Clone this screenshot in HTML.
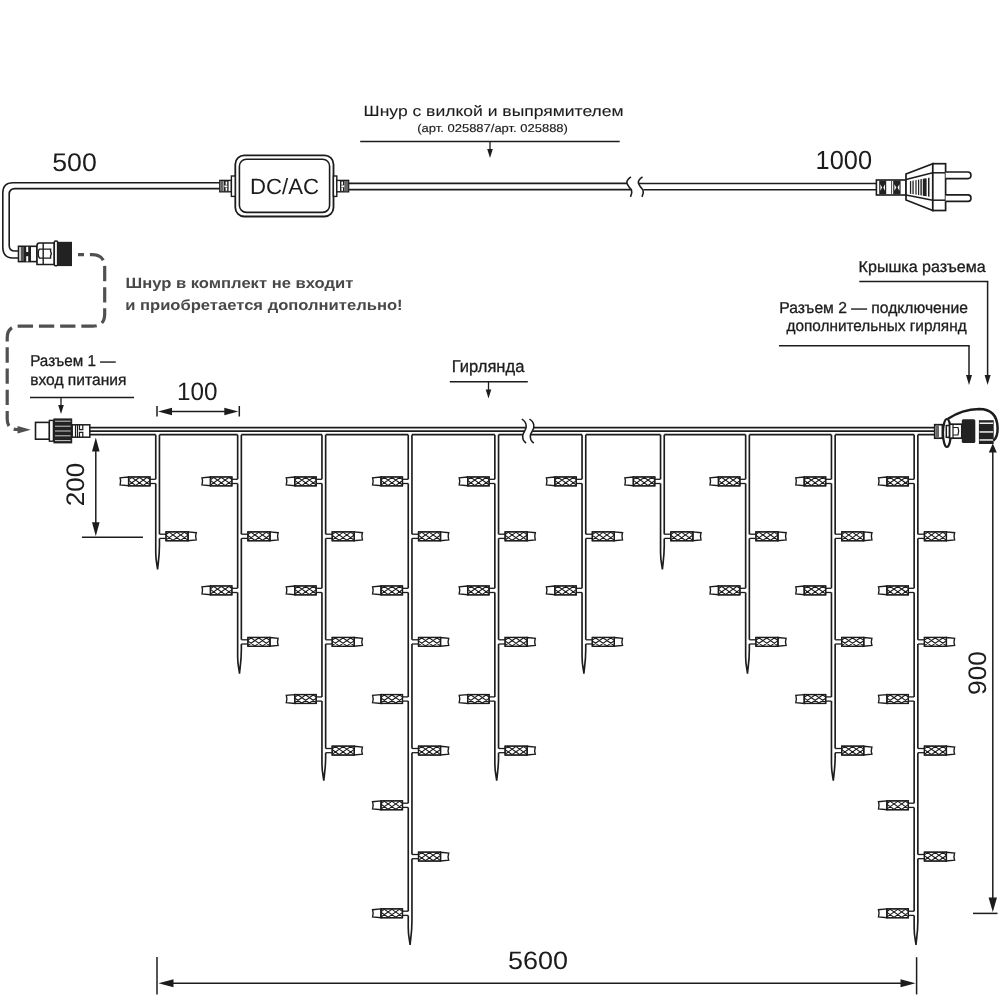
<!DOCTYPE html><html><head><meta charset="utf-8"><style>html,body{margin:0;padding:0;background:#fff;width:1000px;height:1000px;overflow:hidden}svg{display:block;filter:grayscale(1)}text{font-family:"Liberation Sans",sans-serif;text-rendering:geometricPrecision}</style></head><body>
<svg width="1000" height="1000" viewBox="0 0 1000 1000">
<rect width="1000" height="1000" fill="#fff"/>
<path d="M219.8 182.8 L13 182.8 Q2.8 182.8 2.8 193 L2.8 247 Q2.8 258 13 258 L18.5 258" fill="none" stroke="#1c1c1c" stroke-width="1.6" />
<path d="M219.8 188.6 L15 188.6 Q9.2 188.6 9.2 194.5 L9.2 245.5 Q9.2 251 15 251 L18.5 251" fill="none" stroke="#1c1c1c" stroke-width="1.6" />
<rect x="18.5" y="246.3" width="18.5" height="15.3" rx="0" fill="#fff" stroke="#1c1c1c" stroke-width="1.6"/>
<rect x="20.7" y="247" width="3.3" height="14" fill="#555"/>
<rect x="24" y="247" width="7" height="14" fill="#222"/>
<rect x="26.2" y="246.8" width="2" height="5.2" fill="#fff"/>
<rect x="26.2" y="256.2" width="2" height="5.2" fill="#fff"/>
<path d="M37 264.5 L37 245.5 Q37 243 39.5 243 L54.3 243 L54.3 264.5 Z" fill="#fff" stroke="#1c1c1c" stroke-width="1.6" />
<line x1="43.2" y1="243" x2="43.2" y2="264.5" stroke="#1c1c1c" stroke-width="1.4" />
<path d="M39.5 249.1 L50.6 249.1 L50.6 251.6 Q52 253.6 50.6 255.6 L50.6 258.1 L39.5 258.1 Q38 256.5 38.3 253.6 Q38 250.7 39.5 249.1 Z" fill="none" stroke="#1c1c1c" stroke-width="1.4" />
<rect x="54.3" y="241.1" width="3.3" height="24.7" rx="1.2" fill="#fff" stroke="#1c1c1c" stroke-width="1.5"/>
<rect x="57.6" y="241.8" width="14.4" height="24.3" fill="#222"/>
<path d="M78 254.7 L92 254.7 Q104.7 254.7 104.7 267 L104.7 314 Q104.7 326.2 92.5 326.2 L19 326.2 Q7.2 326.2 7.2 338 L7.2 419 Q7.2 429.5 17 429.5 L22 429.5" fill="none" stroke="#505050" stroke-width="3.2" stroke-dasharray="15.3 5.9" stroke-dashoffset="9.3"/>
<path d="M17.5 426.1 L17.5 433.5 L30.8 429.8 Z" fill="#505050"/>
<rect x="235.3" y="155.3" width="98.2" height="61.2" rx="9" fill="#fff" stroke="#1c1c1c" stroke-width="1.8"/>
<rect x="239.4" y="159.2" width="90.2" height="53.2" rx="7" fill="#fff" stroke="#1c1c1c" stroke-width="1.6"/>
<text x="250" y="193.8" font-size="22" font-weight="normal" fill="#1c1c1c" text-anchor="start" textLength="69" lengthAdjust="spacingAndGlyphs" >DC/AC</text>
<rect x="219.8" y="180.4" width="11.6" height="11.4" rx="0" fill="#fff" stroke="#1c1c1c" stroke-width="1.4"/>
<rect x="220.4" y="181" width="3.2" height="10.2" fill="#666"/>
<rect x="224" y="181" width="4.6" height="10.2" fill="#222"/>
<rect x="224.4" y="185.4" width="3" height="1.8" fill="#fff"/>
<rect x="225.6" y="181.6" width="1.6" height="3.2" fill="#fff"/>
<rect x="225.6" y="187.6" width="1.6" height="3.2" fill="#fff"/>
<rect x="231.4" y="176" width="3.8" height="20.4" rx="0" fill="#fff" stroke="#1c1c1c" stroke-width="1.4"/>
<rect x="333.4" y="176" width="3.4" height="20.4" rx="0" fill="#fff" stroke="#1c1c1c" stroke-width="1.4"/>
<rect x="336.8" y="180.4" width="11.8" height="11.4" rx="0" fill="#fff" stroke="#1c1c1c" stroke-width="1.4"/>
<rect x="345" y="181" width="3.2" height="10.2" fill="#666"/>
<rect x="340" y="181" width="4.6" height="10.2" fill="#222"/>
<rect x="341.2" y="185.4" width="3" height="1.8" fill="#fff"/>
<rect x="341.4" y="181.6" width="1.6" height="3.2" fill="#fff"/>
<rect x="341.4" y="187.6" width="1.6" height="3.2" fill="#fff"/>
<line x1="348.6" y1="183.4" x2="627.5" y2="183.4" stroke="#1c1c1c" stroke-width="1.6" />
<line x1="348.6" y1="189.6" x2="631.5" y2="189.6" stroke="#1c1c1c" stroke-width="1.6" />
<line x1="639" y1="183.5" x2="876.5" y2="183.5" stroke="#1c1c1c" stroke-width="1.6" />
<line x1="643.5" y1="189.7" x2="876.5" y2="189.7" stroke="#1c1c1c" stroke-width="1.6" />
<path d="M631 176.8 Q626 180 627 183.5 Q628 186 631.5 190 Q632.5 193 630.5 196.8" fill="none" stroke="#1c1c1c" stroke-width="1.6" />
<path d="M642.5 176.8 Q637.5 180 638.5 183.5 Q639.5 186 643 190 Q644 193 642 196.8" fill="none" stroke="#1c1c1c" stroke-width="1.6" />
<rect x="876.4" y="180" width="29.6" height="15" rx="0" fill="#fff" stroke="#1c1c1c" stroke-width="1.6"/>
<rect x="879.2" y="180.6" width="7.00" height="13.8" fill="#222"/>
<path d="M880.40 184.2 L882.10 187.5 L880.40 190.8 Z M885.00 184.2 L883.30 187.5 L885.00 190.8 Z" fill="#fff"/>
<rect x="893.2" y="180.6" width="7.40" height="13.8" fill="#222"/>
<path d="M894.40 184.2 L896.30 187.5 L894.40 190.8 Z M899.40 184.2 L897.50 187.5 L899.40 190.8 Z" fill="#fff"/>
<line x1="891.6" y1="180.6" x2="891.6" y2="194.4" stroke="#444" stroke-width="1" />
<path d="M906 174 L932.8 163.7 L932.8 210.5 L906 200 Z" fill="#fff" stroke="#1c1c1c" stroke-width="1.7" />
<path d="M906 179.5 L932.8 172.8 M906 195 L932.8 200.2" fill="none" stroke="#1c1c1c" stroke-width="1.5" />
<rect x="932.8" y="163.7" width="12.8" height="46.8" rx="0" fill="#fff" stroke="#1c1c1c" stroke-width="1.7"/>
<line x1="932.8" y1="172.8" x2="945.6" y2="172.8" stroke="#1c1c1c" stroke-width="1.5" />
<line x1="932.8" y1="200.2" x2="945.6" y2="200.2" stroke="#1c1c1c" stroke-width="1.5" />
<path d="M909.90 181.30 L911.20 181.05 L911.20 193.91 L909.90 193.70 Z" fill="#222"/>
<path d="M912.40 180.83 L913.70 180.58 L913.70 194.30 L912.40 194.10 Z" fill="#222"/>
<path d="M915.40 180.26 L916.60 180.04 L916.60 194.76 L915.40 194.57 Z" fill="#222"/>
<path d="M918.00 179.77 L919.20 179.54 L919.20 195.17 L918.00 194.98 Z" fill="#222"/>
<path d="M920.40 179.32 L921.80 179.05 L921.80 195.58 L920.40 195.36 Z" fill="#222"/>
<path d="M922.80 178.86 L926.60 178.15 L926.60 196.34 L922.80 195.74 Z" fill="#222"/>
<path d="M928.00 177.88 L929.50 177.60 L929.50 196.80 L928.00 196.56 Z" fill="#222"/>
<path d="M945.6 172 L968 172 Q971 172 971 175.3 Q971 178.6 968 178.6 L945.6 178.6" fill="#fff" stroke="#1c1c1c" stroke-width="1.6" />
<path d="M945.6 194.9 L968 194.9 Q971 194.9 971 198.2 Q971 201.4 968 201.4 L945.6 201.4" fill="#fff" stroke="#1c1c1c" stroke-width="1.6" />
<text x="363.6" y="115.7" font-size="14.8" font-weight="normal" fill="#1c1c1c" text-anchor="start" textLength="260" lengthAdjust="spacingAndGlyphs" stroke="#1c1c1c" stroke-width="0.1" >Шнур с вилкой и выпрямителем</text>
<text x="417.3" y="131.7" font-size="11.4" font-weight="normal" fill="#1c1c1c" text-anchor="start" textLength="150.6" lengthAdjust="spacingAndGlyphs" stroke="#1c1c1c" stroke-width="0.15" >(арт. 025887/арт. 025888)</text>
<line x1="360.2" y1="141.5" x2="619.7" y2="141.5" stroke="#1c1c1c" stroke-width="1.5" />
<line x1="490" y1="141.5" x2="490" y2="150" stroke="#1c1c1c" stroke-width="1.3" />
<path d="M487.2 149 L492.8 149 L490 158 Z" fill="#1c1c1c"/>
<text x="52.2" y="171.3" font-size="25.6" font-weight="normal" fill="#1c1c1c" text-anchor="start" textLength="44.6" lengthAdjust="spacingAndGlyphs" >500</text>
<text x="815.6" y="169.4" font-size="26.2" font-weight="normal" fill="#1c1c1c" text-anchor="start" textLength="56.4" lengthAdjust="spacingAndGlyphs" >1000</text>
<text x="125.5" y="287.7" font-size="14.8" font-weight="bold" fill="#484848" text-anchor="start" textLength="227.8" lengthAdjust="spacingAndGlyphs" >Шнур в комплект не входит</text>
<text x="125.2" y="310.1" font-size="14.8" font-weight="bold" fill="#484848" text-anchor="start" textLength="277.4" lengthAdjust="spacingAndGlyphs" >и приобретается дополнительно!</text>
<text x="30.2" y="365.8" font-size="15.8" font-weight="normal" fill="#1c1c1c" text-anchor="start" textLength="85.4" lengthAdjust="spacingAndGlyphs" stroke="#1c1c1c" stroke-width="0.3" >Разъем 1 —</text>
<text x="30.2" y="384.6" font-size="15.8" font-weight="normal" fill="#1c1c1c" text-anchor="start" textLength="96.2" lengthAdjust="spacingAndGlyphs" stroke="#1c1c1c" stroke-width="0.3" >вход питания</text>
<line x1="30" y1="397.6" x2="134" y2="397.6" stroke="#1c1c1c" stroke-width="1.5" />
<line x1="61" y1="397.6" x2="61" y2="405" stroke="#1c1c1c" stroke-width="1.3" />
<path d="M58.2 405 L63.8 405 L61 414 Z" fill="#1c1c1c"/>
<text x="177" y="400.2" font-size="25.2" font-weight="normal" fill="#1c1c1c" text-anchor="start" textLength="40.5" lengthAdjust="spacingAndGlyphs" >100</text>
<line x1="157" y1="406" x2="157" y2="416.5" stroke="#1c1c1c" stroke-width="1.5" />
<line x1="239.3" y1="406" x2="239.3" y2="416.5" stroke="#1c1c1c" stroke-width="1.5" />
<line x1="165" y1="411.5" x2="232" y2="411.5" stroke="#1c1c1c" stroke-width="1.5" />
<path d="M172 407.7 L172 415.3 L158 411.5 Z" fill="#1c1c1c"/>
<path d="M224.3 407.7 L224.3 415.3 L238.3 411.5 Z" fill="#1c1c1c"/>
<text x="451.8" y="372.2" font-size="17" font-weight="normal" fill="#1c1c1c" text-anchor="start" textLength="72.6" lengthAdjust="spacingAndGlyphs" stroke="#1c1c1c" stroke-width="0.3" >Гирлянда</text>
<line x1="449.8" y1="381.8" x2="527.8" y2="381.8" stroke="#1c1c1c" stroke-width="1.5" />
<line x1="488.5" y1="381.8" x2="488.5" y2="390" stroke="#1c1c1c" stroke-width="1.3" />
<path d="M485.7 389.6 L491.3 389.6 L488.5 398.6 Z" fill="#1c1c1c"/>
<text x="858.6" y="272.2" font-size="15.8" font-weight="normal" fill="#1c1c1c" text-anchor="start" textLength="127.2" lengthAdjust="spacingAndGlyphs" stroke="#1c1c1c" stroke-width="0.3" >Крышка разъема</text>
<line x1="859.3" y1="281.5" x2="988.3" y2="281.5" stroke="#1c1c1c" stroke-width="1.5" />
<line x1="987.6" y1="281.5" x2="987.6" y2="376" stroke="#1c1c1c" stroke-width="1.5" />
<path d="M984.6 375 L990.6 375 L987.6 385 Z" fill="#1c1c1c"/>
<text x="779.3" y="312.5" font-size="15.8" font-weight="normal" fill="#1c1c1c" text-anchor="start" textLength="188.6" lengthAdjust="spacingAndGlyphs" stroke="#1c1c1c" stroke-width="0.3" >Разъем 2 — подключение</text>
<text x="786.5" y="331" font-size="15.8" font-weight="normal" fill="#1c1c1c" text-anchor="start" textLength="180.1" lengthAdjust="spacingAndGlyphs" stroke="#1c1c1c" stroke-width="0.3" >дополнительных гирлянд</text>
<line x1="779" y1="345.8" x2="969.7" y2="345.8" stroke="#1c1c1c" stroke-width="1.5" />
<line x1="969" y1="345.8" x2="969" y2="376" stroke="#1c1c1c" stroke-width="1.5" />
<path d="M966 375 L972 375 L969 385 Z" fill="#1c1c1c"/>
<rect x="35.5" y="422.4" width="13.9" height="16.8" rx="0" fill="#fff" stroke="#1c1c1c" stroke-width="1.6"/>
<rect x="49.4" y="420.4" width="4" height="20.8" rx="0" fill="#fff" stroke="#1c1c1c" stroke-width="1.4"/>
<rect x="53.4" y="418.4" width="18.8" height="25" fill="#222"/>
<rect x="55" y="420.7" width="15.6" height="1.0" fill="#ccc"/>
<rect x="55" y="425.7" width="15.6" height="1.0" fill="#ccc"/>
<rect x="55" y="430.5" width="15.6" height="1.0" fill="#ccc"/>
<rect x="55" y="435.3" width="15.6" height="1.0" fill="#ccc"/>
<rect x="55" y="440.1" width="15.6" height="1.0" fill="#ccc"/>
<rect x="72.2" y="424.8" width="17.6" height="12.4" rx="0" fill="#fff" stroke="#1c1c1c" stroke-width="1.5"/>
<path d="M75.5 425 L75.5 437 M77.5 425 L77.5 437 M79.5 425 L79.5 429.6 L82.8 429.6 L82.8 425 M79.5 437 L79.5 432.4 L82.8 432.4 L82.8 437" fill="none" stroke="#1c1c1c" stroke-width="1.2" />
<line x1="89.8" y1="427.7" x2="525.9" y2="427.7" stroke="#1c1c1c" stroke-width="1.75" />
<line x1="89.8" y1="431" x2="524.6" y2="431" stroke="#1c1c1c" stroke-width="1.75" />
<path d="M89.8 434.7 L155.75 434.7 M159.45 434.7 L237.65 434.7 M241.35 434.7 L321.95 434.7 M325.65 434.7 L408.25 434.7 M411.95 434.7 L494.85 434.7 M498.55 434.7 L522.8 434.7 M530.6 434.7 L582.05 434.7 M585.75 434.7 L660.55 434.7 M664.25 434.7 L745.65 434.7 M749.35 434.7 L831.45 434.7 M835.15 434.7 L914.15 434.7 M917.85 434.7 L934.7 434.7 " fill="none" stroke="#1c1c1c" stroke-width="1.75" />
<line x1="533.8" y1="427.7" x2="934.7" y2="427.7" stroke="#1c1c1c" stroke-width="1.75" />
<line x1="532.6" y1="431" x2="934.7" y2="431" stroke="#1c1c1c" stroke-width="1.75" />
<path d="M521.80 419.1 C524.50 420.6 526.50 423.5 526.20 427 C525.90 430 523.50 432 522.80 435 C522.30 438 523.80 441.5 526.10 443" fill="none" stroke="#1c1c1c" stroke-width="1.6" />
<path d="M529.45 419.1 C532.15 420.6 534.15 423.5 533.85 427 C533.55 430 531.15 432 530.45 435 C529.95 438 531.45 441.5 533.75 443" fill="none" stroke="#1c1c1c" stroke-width="1.6" />
<path d="M155.75 434.7 L155.75 479.3 M159.45 434.7 L159.45 534.2 M155.75 483.5 L155.75 552.5 C155.75 561.5 157.3 565.5 157.6 569.5 M159.45 538.4 L159.45 545.5 C159.45 557.5 157.9 564.5 157.6 569.5 " fill="none" stroke="#1c1c1c" stroke-width="1.65" />
<line x1="150" y1="479.3" x2="155.75" y2="479.3" stroke="#1c1c1c" stroke-width="1.3" />
<line x1="150" y1="483.5" x2="155.75" y2="483.5" stroke="#1c1c1c" stroke-width="1.3" />
<path d="M128.6 477 L120.1 477.8 Q121.3 481.4 120.1 485 L128.6 485.8 Z" fill="#fff" stroke="#1c1c1c" stroke-width="1.4" />
<rect x="128.6" y="476.95" width="21.4" height="8.9" rx="0" fill="#fff" stroke="#1c1c1c" stroke-width="1.2"/>
<clipPath id="c115"><rect x="128.6" y="476.95" width="21.4" height="8.9"/></clipPath>
<path clip-path="url(#c115)" d="M116.06 476.95 L128.6 485.85 M119.86 485.85 L132.4 476.95 M123.66 476.95 L136.2 485.85 M127.46 485.85 L140 476.95 M131.26 476.95 L143.8 485.85 M135.06 485.85 L147.6 476.95 M138.86 476.95 L151.4 485.85 M142.66 485.85 L155.2 476.95 M146.46 476.95 L159 485.85 M150.26 485.85 L162.8 476.95 M154.06 476.95 L166.6 485.85 M157.86 485.85 L170.4 476.95 M161.66 476.95 L174.2 485.85 M165.46 485.85 L178 476.95" stroke="#1c1c1c" stroke-width="1.1" fill="none"/>
<rect x="128.6" y="476.95" width="21.4" height="8.9" rx="0" fill="none" stroke="#1c1c1c" stroke-width="1.25"/>
<line x1="159.45" y1="534.2" x2="166" y2="534.2" stroke="#1c1c1c" stroke-width="1.3" />
<line x1="159.45" y1="538.4" x2="166" y2="538.4" stroke="#1c1c1c" stroke-width="1.3" />
<path d="M188 531.9 L196.2 532.7 Q195 536.3 196.2 539.9 L188 540.7 Z" fill="#fff" stroke="#1c1c1c" stroke-width="1.4" />
<rect x="166" y="531.85" width="22" height="8.9" rx="0" fill="#fff" stroke="#1c1c1c" stroke-width="1.2"/>
<clipPath id="c122"><rect x="166" y="531.85" width="22" height="8.9"/></clipPath>
<path clip-path="url(#c122)" d="M153.46 531.85 L166 540.75 M157.26 540.75 L169.8 531.85 M161.06 531.85 L173.6 540.75 M164.86 540.75 L177.4 531.85 M168.66 531.85 L181.2 540.75 M172.46 540.75 L185 531.85 M176.26 531.85 L188.8 540.75 M180.06 540.75 L192.6 531.85 M183.86 531.85 L196.4 540.75 M187.66 540.75 L200.2 531.85 M191.46 531.85 L204 540.75 M195.26 540.75 L207.8 531.85 M199.06 531.85 L211.6 540.75 M202.86 540.75 L215.4 531.85" stroke="#1c1c1c" stroke-width="1.1" fill="none"/>
<rect x="166" y="531.85" width="22" height="8.9" rx="0" fill="none" stroke="#1c1c1c" stroke-width="1.25"/>
<path d="M237.65 434.7 L237.65 479.3 M237.65 483.5 L237.65 588.3 M241.35 434.7 L241.35 534.2 M241.35 538.4 L241.35 639.8 M237.65 592.5 L237.65 656.7 C237.65 665.7 239.2 669.7 239.5 673.7 M241.35 644 L241.35 649.7 C241.35 661.7 239.8 668.7 239.5 673.7 " fill="none" stroke="#1c1c1c" stroke-width="1.65" />
<line x1="231.9" y1="479.3" x2="237.65" y2="479.3" stroke="#1c1c1c" stroke-width="1.3" />
<line x1="231.9" y1="483.5" x2="237.65" y2="483.5" stroke="#1c1c1c" stroke-width="1.3" />
<path d="M210.5 477 L202 477.8 Q203.2 481.4 202 485 L210.5 485.8 Z" fill="#fff" stroke="#1c1c1c" stroke-width="1.4" />
<rect x="210.5" y="476.95" width="21.4" height="8.9" rx="0" fill="#fff" stroke="#1c1c1c" stroke-width="1.2"/>
<clipPath id="c130"><rect x="210.5" y="476.95" width="21.4" height="8.9"/></clipPath>
<path clip-path="url(#c130)" d="M197.96 476.95 L210.5 485.85 M201.76 485.85 L214.3 476.95 M205.56 476.95 L218.1 485.85 M209.36 485.85 L221.9 476.95 M213.16 476.95 L225.7 485.85 M216.96 485.85 L229.5 476.95 M220.76 476.95 L233.3 485.85 M224.56 485.85 L237.1 476.95 M228.36 476.95 L240.9 485.85 M232.16 485.85 L244.7 476.95 M235.96 476.95 L248.5 485.85 M239.76 485.85 L252.3 476.95 M243.56 476.95 L256.1 485.85 M247.36 485.85 L259.9 476.95" stroke="#1c1c1c" stroke-width="1.1" fill="none"/>
<rect x="210.5" y="476.95" width="21.4" height="8.9" rx="0" fill="none" stroke="#1c1c1c" stroke-width="1.25"/>
<line x1="241.35" y1="534.2" x2="247.9" y2="534.2" stroke="#1c1c1c" stroke-width="1.3" />
<line x1="241.35" y1="538.4" x2="247.9" y2="538.4" stroke="#1c1c1c" stroke-width="1.3" />
<path d="M269.9 531.9 L278.1 532.7 Q276.9 536.3 278.1 539.9 L269.9 540.7 Z" fill="#fff" stroke="#1c1c1c" stroke-width="1.4" />
<rect x="247.9" y="531.85" width="22" height="8.9" rx="0" fill="#fff" stroke="#1c1c1c" stroke-width="1.2"/>
<clipPath id="c137"><rect x="247.9" y="531.85" width="22" height="8.9"/></clipPath>
<path clip-path="url(#c137)" d="M235.36 531.85 L247.9 540.75 M239.16 540.75 L251.7 531.85 M242.96 531.85 L255.5 540.75 M246.76 540.75 L259.3 531.85 M250.56 531.85 L263.1 540.75 M254.36 540.75 L266.9 531.85 M258.16 531.85 L270.7 540.75 M261.96 540.75 L274.5 531.85 M265.76 531.85 L278.3 540.75 M269.56 540.75 L282.1 531.85 M273.36 531.85 L285.9 540.75 M277.16 540.75 L289.7 531.85 M280.96 531.85 L293.5 540.75 M284.76 540.75 L297.3 531.85" stroke="#1c1c1c" stroke-width="1.1" fill="none"/>
<rect x="247.9" y="531.85" width="22" height="8.9" rx="0" fill="none" stroke="#1c1c1c" stroke-width="1.25"/>
<line x1="231.9" y1="588.3" x2="237.65" y2="588.3" stroke="#1c1c1c" stroke-width="1.3" />
<line x1="231.9" y1="592.5" x2="237.65" y2="592.5" stroke="#1c1c1c" stroke-width="1.3" />
<path d="M210.5 586 L202 586.8 Q203.2 590.4 202 594 L210.5 594.8 Z" fill="#fff" stroke="#1c1c1c" stroke-width="1.4" />
<rect x="210.5" y="585.95" width="21.4" height="8.9" rx="0" fill="#fff" stroke="#1c1c1c" stroke-width="1.2"/>
<clipPath id="c144"><rect x="210.5" y="585.95" width="21.4" height="8.9"/></clipPath>
<path clip-path="url(#c144)" d="M197.96 585.95 L210.5 594.85 M201.76 594.85 L214.3 585.95 M205.56 585.95 L218.1 594.85 M209.36 594.85 L221.9 585.95 M213.16 585.95 L225.7 594.85 M216.96 594.85 L229.5 585.95 M220.76 585.95 L233.3 594.85 M224.56 594.85 L237.1 585.95 M228.36 585.95 L240.9 594.85 M232.16 594.85 L244.7 585.95 M235.96 585.95 L248.5 594.85 M239.76 594.85 L252.3 585.95 M243.56 585.95 L256.1 594.85 M247.36 594.85 L259.9 585.95" stroke="#1c1c1c" stroke-width="1.1" fill="none"/>
<rect x="210.5" y="585.95" width="21.4" height="8.9" rx="0" fill="none" stroke="#1c1c1c" stroke-width="1.25"/>
<line x1="241.35" y1="639.8" x2="247.9" y2="639.8" stroke="#1c1c1c" stroke-width="1.3" />
<line x1="241.35" y1="644" x2="247.9" y2="644" stroke="#1c1c1c" stroke-width="1.3" />
<path d="M269.9 637.5 L278.1 638.3 Q276.9 641.9 278.1 645.5 L269.9 646.3 Z" fill="#fff" stroke="#1c1c1c" stroke-width="1.4" />
<rect x="247.9" y="637.45" width="22" height="8.9" rx="0" fill="#fff" stroke="#1c1c1c" stroke-width="1.2"/>
<clipPath id="c151"><rect x="247.9" y="637.45" width="22" height="8.9"/></clipPath>
<path clip-path="url(#c151)" d="M235.36 637.45 L247.9 646.35 M239.16 646.35 L251.7 637.45 M242.96 637.45 L255.5 646.35 M246.76 646.35 L259.3 637.45 M250.56 637.45 L263.1 646.35 M254.36 646.35 L266.9 637.45 M258.16 637.45 L270.7 646.35 M261.96 646.35 L274.5 637.45 M265.76 637.45 L278.3 646.35 M269.56 646.35 L282.1 637.45 M273.36 637.45 L285.9 646.35 M277.16 646.35 L289.7 637.45 M280.96 637.45 L293.5 646.35 M284.76 646.35 L297.3 637.45" stroke="#1c1c1c" stroke-width="1.1" fill="none"/>
<rect x="247.9" y="637.45" width="22" height="8.9" rx="0" fill="none" stroke="#1c1c1c" stroke-width="1.25"/>
<path d="M321.95 434.7 L321.95 479.3 M321.95 483.5 L321.95 588.3 M321.95 592.5 L321.95 696.9 M325.65 434.7 L325.65 534.2 M325.65 538.4 L325.65 639.8 M325.65 644 L325.65 748.5 M321.95 701.1 L321.95 763.8 C321.95 772.8 323.5 776.8 323.8 780.8 M325.65 752.7 L325.65 756.8 C325.65 768.8 324.1 775.8 323.8 780.8 " fill="none" stroke="#1c1c1c" stroke-width="1.65" />
<line x1="316.2" y1="479.3" x2="321.95" y2="479.3" stroke="#1c1c1c" stroke-width="1.3" />
<line x1="316.2" y1="483.5" x2="321.95" y2="483.5" stroke="#1c1c1c" stroke-width="1.3" />
<path d="M294.8 477 L286.3 477.8 Q287.5 481.4 286.3 485 L294.8 485.8 Z" fill="#fff" stroke="#1c1c1c" stroke-width="1.4" />
<rect x="294.8" y="476.95" width="21.4" height="8.9" rx="0" fill="#fff" stroke="#1c1c1c" stroke-width="1.2"/>
<clipPath id="c159"><rect x="294.8" y="476.95" width="21.4" height="8.9"/></clipPath>
<path clip-path="url(#c159)" d="M282.26 476.95 L294.8 485.85 M286.06 485.85 L298.6 476.95 M289.86 476.95 L302.4 485.85 M293.66 485.85 L306.2 476.95 M297.46 476.95 L310 485.85 M301.26 485.85 L313.8 476.95 M305.06 476.95 L317.6 485.85 M308.86 485.85 L321.4 476.95 M312.66 476.95 L325.2 485.85 M316.46 485.85 L329 476.95 M320.26 476.95 L332.8 485.85 M324.06 485.85 L336.6 476.95 M327.86 476.95 L340.4 485.85 M331.66 485.85 L344.2 476.95" stroke="#1c1c1c" stroke-width="1.1" fill="none"/>
<rect x="294.8" y="476.95" width="21.4" height="8.9" rx="0" fill="none" stroke="#1c1c1c" stroke-width="1.25"/>
<line x1="325.65" y1="534.2" x2="332.2" y2="534.2" stroke="#1c1c1c" stroke-width="1.3" />
<line x1="325.65" y1="538.4" x2="332.2" y2="538.4" stroke="#1c1c1c" stroke-width="1.3" />
<path d="M354.2 531.9 L362.4 532.7 Q361.2 536.3 362.4 539.9 L354.2 540.7 Z" fill="#fff" stroke="#1c1c1c" stroke-width="1.4" />
<rect x="332.2" y="531.85" width="22" height="8.9" rx="0" fill="#fff" stroke="#1c1c1c" stroke-width="1.2"/>
<clipPath id="c166"><rect x="332.2" y="531.85" width="22" height="8.9"/></clipPath>
<path clip-path="url(#c166)" d="M319.66 531.85 L332.2 540.75 M323.46 540.75 L336 531.85 M327.26 531.85 L339.8 540.75 M331.06 540.75 L343.6 531.85 M334.86 531.85 L347.4 540.75 M338.66 540.75 L351.2 531.85 M342.46 531.85 L355 540.75 M346.26 540.75 L358.8 531.85 M350.06 531.85 L362.6 540.75 M353.86 540.75 L366.4 531.85 M357.66 531.85 L370.2 540.75 M361.46 540.75 L374 531.85 M365.26 531.85 L377.8 540.75 M369.06 540.75 L381.6 531.85" stroke="#1c1c1c" stroke-width="1.1" fill="none"/>
<rect x="332.2" y="531.85" width="22" height="8.9" rx="0" fill="none" stroke="#1c1c1c" stroke-width="1.25"/>
<line x1="316.2" y1="588.3" x2="321.95" y2="588.3" stroke="#1c1c1c" stroke-width="1.3" />
<line x1="316.2" y1="592.5" x2="321.95" y2="592.5" stroke="#1c1c1c" stroke-width="1.3" />
<path d="M294.8 586 L286.3 586.8 Q287.5 590.4 286.3 594 L294.8 594.8 Z" fill="#fff" stroke="#1c1c1c" stroke-width="1.4" />
<rect x="294.8" y="585.95" width="21.4" height="8.9" rx="0" fill="#fff" stroke="#1c1c1c" stroke-width="1.2"/>
<clipPath id="c173"><rect x="294.8" y="585.95" width="21.4" height="8.9"/></clipPath>
<path clip-path="url(#c173)" d="M282.26 585.95 L294.8 594.85 M286.06 594.85 L298.6 585.95 M289.86 585.95 L302.4 594.85 M293.66 594.85 L306.2 585.95 M297.46 585.95 L310 594.85 M301.26 594.85 L313.8 585.95 M305.06 585.95 L317.6 594.85 M308.86 594.85 L321.4 585.95 M312.66 585.95 L325.2 594.85 M316.46 594.85 L329 585.95 M320.26 585.95 L332.8 594.85 M324.06 594.85 L336.6 585.95 M327.86 585.95 L340.4 594.85 M331.66 594.85 L344.2 585.95" stroke="#1c1c1c" stroke-width="1.1" fill="none"/>
<rect x="294.8" y="585.95" width="21.4" height="8.9" rx="0" fill="none" stroke="#1c1c1c" stroke-width="1.25"/>
<line x1="325.65" y1="639.8" x2="332.2" y2="639.8" stroke="#1c1c1c" stroke-width="1.3" />
<line x1="325.65" y1="644" x2="332.2" y2="644" stroke="#1c1c1c" stroke-width="1.3" />
<path d="M354.2 637.5 L362.4 638.3 Q361.2 641.9 362.4 645.5 L354.2 646.3 Z" fill="#fff" stroke="#1c1c1c" stroke-width="1.4" />
<rect x="332.2" y="637.45" width="22" height="8.9" rx="0" fill="#fff" stroke="#1c1c1c" stroke-width="1.2"/>
<clipPath id="c180"><rect x="332.2" y="637.45" width="22" height="8.9"/></clipPath>
<path clip-path="url(#c180)" d="M319.66 637.45 L332.2 646.35 M323.46 646.35 L336 637.45 M327.26 637.45 L339.8 646.35 M331.06 646.35 L343.6 637.45 M334.86 637.45 L347.4 646.35 M338.66 646.35 L351.2 637.45 M342.46 637.45 L355 646.35 M346.26 646.35 L358.8 637.45 M350.06 637.45 L362.6 646.35 M353.86 646.35 L366.4 637.45 M357.66 637.45 L370.2 646.35 M361.46 646.35 L374 637.45 M365.26 637.45 L377.8 646.35 M369.06 646.35 L381.6 637.45" stroke="#1c1c1c" stroke-width="1.1" fill="none"/>
<rect x="332.2" y="637.45" width="22" height="8.9" rx="0" fill="none" stroke="#1c1c1c" stroke-width="1.25"/>
<line x1="316.2" y1="696.9" x2="321.95" y2="696.9" stroke="#1c1c1c" stroke-width="1.3" />
<line x1="316.2" y1="701.1" x2="321.95" y2="701.1" stroke="#1c1c1c" stroke-width="1.3" />
<path d="M294.8 694.6 L286.3 695.4 Q287.5 699 286.3 702.6 L294.8 703.4 Z" fill="#fff" stroke="#1c1c1c" stroke-width="1.4" />
<rect x="294.8" y="694.55" width="21.4" height="8.9" rx="0" fill="#fff" stroke="#1c1c1c" stroke-width="1.2"/>
<clipPath id="c187"><rect x="294.8" y="694.55" width="21.4" height="8.9"/></clipPath>
<path clip-path="url(#c187)" d="M282.26 694.55 L294.8 703.45 M286.06 703.45 L298.6 694.55 M289.86 694.55 L302.4 703.45 M293.66 703.45 L306.2 694.55 M297.46 694.55 L310 703.45 M301.26 703.45 L313.8 694.55 M305.06 694.55 L317.6 703.45 M308.86 703.45 L321.4 694.55 M312.66 694.55 L325.2 703.45 M316.46 703.45 L329 694.55 M320.26 694.55 L332.8 703.45 M324.06 703.45 L336.6 694.55 M327.86 694.55 L340.4 703.45 M331.66 703.45 L344.2 694.55" stroke="#1c1c1c" stroke-width="1.1" fill="none"/>
<rect x="294.8" y="694.55" width="21.4" height="8.9" rx="0" fill="none" stroke="#1c1c1c" stroke-width="1.25"/>
<line x1="325.65" y1="748.5" x2="332.2" y2="748.5" stroke="#1c1c1c" stroke-width="1.3" />
<line x1="325.65" y1="752.7" x2="332.2" y2="752.7" stroke="#1c1c1c" stroke-width="1.3" />
<path d="M354.2 746.2 L362.4 747 Q361.2 750.6 362.4 754.2 L354.2 755 Z" fill="#fff" stroke="#1c1c1c" stroke-width="1.4" />
<rect x="332.2" y="746.15" width="22" height="8.9" rx="0" fill="#fff" stroke="#1c1c1c" stroke-width="1.2"/>
<clipPath id="c194"><rect x="332.2" y="746.15" width="22" height="8.9"/></clipPath>
<path clip-path="url(#c194)" d="M319.66 746.15 L332.2 755.05 M323.46 755.05 L336 746.15 M327.26 746.15 L339.8 755.05 M331.06 755.05 L343.6 746.15 M334.86 746.15 L347.4 755.05 M338.66 755.05 L351.2 746.15 M342.46 746.15 L355 755.05 M346.26 755.05 L358.8 746.15 M350.06 746.15 L362.6 755.05 M353.86 755.05 L366.4 746.15 M357.66 746.15 L370.2 755.05 M361.46 755.05 L374 746.15 M365.26 746.15 L377.8 755.05 M369.06 755.05 L381.6 746.15" stroke="#1c1c1c" stroke-width="1.1" fill="none"/>
<rect x="332.2" y="746.15" width="22" height="8.9" rx="0" fill="none" stroke="#1c1c1c" stroke-width="1.25"/>
<path d="M408.25 434.7 L408.25 479.3 M408.25 483.5 L408.25 588.3 M408.25 592.5 L408.25 696.9 M408.25 701.1 L408.25 803.2 M408.25 807.4 L408.25 911.2 M411.95 434.7 L411.95 534.2 M411.95 538.4 L411.95 639.8 M411.95 644 L411.95 748.5 M411.95 752.7 L411.95 854.5 M408.25 915.4 L408.25 927.9 C408.25 936.9 409.8 940.9 410.1 944.9 M411.95 858.7 L411.95 920.9 C411.95 932.9 410.4 939.9 410.1 944.9 " fill="none" stroke="#1c1c1c" stroke-width="1.65" />
<line x1="402.5" y1="479.3" x2="408.25" y2="479.3" stroke="#1c1c1c" stroke-width="1.3" />
<line x1="402.5" y1="483.5" x2="408.25" y2="483.5" stroke="#1c1c1c" stroke-width="1.3" />
<path d="M381.1 477 L372.6 477.8 Q373.8 481.4 372.6 485 L381.1 485.8 Z" fill="#fff" stroke="#1c1c1c" stroke-width="1.4" />
<rect x="381.1" y="476.95" width="21.4" height="8.9" rx="0" fill="#fff" stroke="#1c1c1c" stroke-width="1.2"/>
<clipPath id="c202"><rect x="381.1" y="476.95" width="21.4" height="8.9"/></clipPath>
<path clip-path="url(#c202)" d="M368.56 476.95 L381.1 485.85 M372.36 485.85 L384.9 476.95 M376.16 476.95 L388.7 485.85 M379.96 485.85 L392.5 476.95 M383.76 476.95 L396.3 485.85 M387.56 485.85 L400.1 476.95 M391.36 476.95 L403.9 485.85 M395.16 485.85 L407.7 476.95 M398.96 476.95 L411.5 485.85 M402.76 485.85 L415.3 476.95 M406.56 476.95 L419.1 485.85 M410.36 485.85 L422.9 476.95 M414.16 476.95 L426.7 485.85 M417.96 485.85 L430.5 476.95" stroke="#1c1c1c" stroke-width="1.1" fill="none"/>
<rect x="381.1" y="476.95" width="21.4" height="8.9" rx="0" fill="none" stroke="#1c1c1c" stroke-width="1.25"/>
<line x1="411.95" y1="534.2" x2="418.5" y2="534.2" stroke="#1c1c1c" stroke-width="1.3" />
<line x1="411.95" y1="538.4" x2="418.5" y2="538.4" stroke="#1c1c1c" stroke-width="1.3" />
<path d="M440.5 531.9 L448.7 532.7 Q447.5 536.3 448.7 539.9 L440.5 540.7 Z" fill="#fff" stroke="#1c1c1c" stroke-width="1.4" />
<rect x="418.5" y="531.85" width="22" height="8.9" rx="0" fill="#fff" stroke="#1c1c1c" stroke-width="1.2"/>
<clipPath id="c209"><rect x="418.5" y="531.85" width="22" height="8.9"/></clipPath>
<path clip-path="url(#c209)" d="M405.96 531.85 L418.5 540.75 M409.76 540.75 L422.3 531.85 M413.56 531.85 L426.1 540.75 M417.36 540.75 L429.9 531.85 M421.16 531.85 L433.7 540.75 M424.96 540.75 L437.5 531.85 M428.76 531.85 L441.3 540.75 M432.56 540.75 L445.1 531.85 M436.36 531.85 L448.9 540.75 M440.16 540.75 L452.7 531.85 M443.96 531.85 L456.5 540.75 M447.76 540.75 L460.3 531.85 M451.56 531.85 L464.1 540.75 M455.36 540.75 L467.9 531.85" stroke="#1c1c1c" stroke-width="1.1" fill="none"/>
<rect x="418.5" y="531.85" width="22" height="8.9" rx="0" fill="none" stroke="#1c1c1c" stroke-width="1.25"/>
<line x1="402.5" y1="588.3" x2="408.25" y2="588.3" stroke="#1c1c1c" stroke-width="1.3" />
<line x1="402.5" y1="592.5" x2="408.25" y2="592.5" stroke="#1c1c1c" stroke-width="1.3" />
<path d="M381.1 586 L372.6 586.8 Q373.8 590.4 372.6 594 L381.1 594.8 Z" fill="#fff" stroke="#1c1c1c" stroke-width="1.4" />
<rect x="381.1" y="585.95" width="21.4" height="8.9" rx="0" fill="#fff" stroke="#1c1c1c" stroke-width="1.2"/>
<clipPath id="c216"><rect x="381.1" y="585.95" width="21.4" height="8.9"/></clipPath>
<path clip-path="url(#c216)" d="M368.56 585.95 L381.1 594.85 M372.36 594.85 L384.9 585.95 M376.16 585.95 L388.7 594.85 M379.96 594.85 L392.5 585.95 M383.76 585.95 L396.3 594.85 M387.56 594.85 L400.1 585.95 M391.36 585.95 L403.9 594.85 M395.16 594.85 L407.7 585.95 M398.96 585.95 L411.5 594.85 M402.76 594.85 L415.3 585.95 M406.56 585.95 L419.1 594.85 M410.36 594.85 L422.9 585.95 M414.16 585.95 L426.7 594.85 M417.96 594.85 L430.5 585.95" stroke="#1c1c1c" stroke-width="1.1" fill="none"/>
<rect x="381.1" y="585.95" width="21.4" height="8.9" rx="0" fill="none" stroke="#1c1c1c" stroke-width="1.25"/>
<line x1="411.95" y1="639.8" x2="418.5" y2="639.8" stroke="#1c1c1c" stroke-width="1.3" />
<line x1="411.95" y1="644" x2="418.5" y2="644" stroke="#1c1c1c" stroke-width="1.3" />
<path d="M440.5 637.5 L448.7 638.3 Q447.5 641.9 448.7 645.5 L440.5 646.3 Z" fill="#fff" stroke="#1c1c1c" stroke-width="1.4" />
<rect x="418.5" y="637.45" width="22" height="8.9" rx="0" fill="#fff" stroke="#1c1c1c" stroke-width="1.2"/>
<clipPath id="c223"><rect x="418.5" y="637.45" width="22" height="8.9"/></clipPath>
<path clip-path="url(#c223)" d="M405.96 637.45 L418.5 646.35 M409.76 646.35 L422.3 637.45 M413.56 637.45 L426.1 646.35 M417.36 646.35 L429.9 637.45 M421.16 637.45 L433.7 646.35 M424.96 646.35 L437.5 637.45 M428.76 637.45 L441.3 646.35 M432.56 646.35 L445.1 637.45 M436.36 637.45 L448.9 646.35 M440.16 646.35 L452.7 637.45 M443.96 637.45 L456.5 646.35 M447.76 646.35 L460.3 637.45 M451.56 637.45 L464.1 646.35 M455.36 646.35 L467.9 637.45" stroke="#1c1c1c" stroke-width="1.1" fill="none"/>
<rect x="418.5" y="637.45" width="22" height="8.9" rx="0" fill="none" stroke="#1c1c1c" stroke-width="1.25"/>
<line x1="402.5" y1="696.9" x2="408.25" y2="696.9" stroke="#1c1c1c" stroke-width="1.3" />
<line x1="402.5" y1="701.1" x2="408.25" y2="701.1" stroke="#1c1c1c" stroke-width="1.3" />
<path d="M381.1 694.6 L372.6 695.4 Q373.8 699 372.6 702.6 L381.1 703.4 Z" fill="#fff" stroke="#1c1c1c" stroke-width="1.4" />
<rect x="381.1" y="694.55" width="21.4" height="8.9" rx="0" fill="#fff" stroke="#1c1c1c" stroke-width="1.2"/>
<clipPath id="c230"><rect x="381.1" y="694.55" width="21.4" height="8.9"/></clipPath>
<path clip-path="url(#c230)" d="M368.56 694.55 L381.1 703.45 M372.36 703.45 L384.9 694.55 M376.16 694.55 L388.7 703.45 M379.96 703.45 L392.5 694.55 M383.76 694.55 L396.3 703.45 M387.56 703.45 L400.1 694.55 M391.36 694.55 L403.9 703.45 M395.16 703.45 L407.7 694.55 M398.96 694.55 L411.5 703.45 M402.76 703.45 L415.3 694.55 M406.56 694.55 L419.1 703.45 M410.36 703.45 L422.9 694.55 M414.16 694.55 L426.7 703.45 M417.96 703.45 L430.5 694.55" stroke="#1c1c1c" stroke-width="1.1" fill="none"/>
<rect x="381.1" y="694.55" width="21.4" height="8.9" rx="0" fill="none" stroke="#1c1c1c" stroke-width="1.25"/>
<line x1="411.95" y1="748.5" x2="418.5" y2="748.5" stroke="#1c1c1c" stroke-width="1.3" />
<line x1="411.95" y1="752.7" x2="418.5" y2="752.7" stroke="#1c1c1c" stroke-width="1.3" />
<path d="M440.5 746.2 L448.7 747 Q447.5 750.6 448.7 754.2 L440.5 755 Z" fill="#fff" stroke="#1c1c1c" stroke-width="1.4" />
<rect x="418.5" y="746.15" width="22" height="8.9" rx="0" fill="#fff" stroke="#1c1c1c" stroke-width="1.2"/>
<clipPath id="c237"><rect x="418.5" y="746.15" width="22" height="8.9"/></clipPath>
<path clip-path="url(#c237)" d="M405.96 746.15 L418.5 755.05 M409.76 755.05 L422.3 746.15 M413.56 746.15 L426.1 755.05 M417.36 755.05 L429.9 746.15 M421.16 746.15 L433.7 755.05 M424.96 755.05 L437.5 746.15 M428.76 746.15 L441.3 755.05 M432.56 755.05 L445.1 746.15 M436.36 746.15 L448.9 755.05 M440.16 755.05 L452.7 746.15 M443.96 746.15 L456.5 755.05 M447.76 755.05 L460.3 746.15 M451.56 746.15 L464.1 755.05 M455.36 755.05 L467.9 746.15" stroke="#1c1c1c" stroke-width="1.1" fill="none"/>
<rect x="418.5" y="746.15" width="22" height="8.9" rx="0" fill="none" stroke="#1c1c1c" stroke-width="1.25"/>
<line x1="402.5" y1="803.2" x2="408.25" y2="803.2" stroke="#1c1c1c" stroke-width="1.3" />
<line x1="402.5" y1="807.4" x2="408.25" y2="807.4" stroke="#1c1c1c" stroke-width="1.3" />
<path d="M381.1 800.9 L372.6 801.7 Q373.8 805.3 372.6 808.9 L381.1 809.7 Z" fill="#fff" stroke="#1c1c1c" stroke-width="1.4" />
<rect x="381.1" y="800.85" width="21.4" height="8.9" rx="0" fill="#fff" stroke="#1c1c1c" stroke-width="1.2"/>
<clipPath id="c244"><rect x="381.1" y="800.85" width="21.4" height="8.9"/></clipPath>
<path clip-path="url(#c244)" d="M368.56 800.85 L381.1 809.75 M372.36 809.75 L384.9 800.85 M376.16 800.85 L388.7 809.75 M379.96 809.75 L392.5 800.85 M383.76 800.85 L396.3 809.75 M387.56 809.75 L400.1 800.85 M391.36 800.85 L403.9 809.75 M395.16 809.75 L407.7 800.85 M398.96 800.85 L411.5 809.75 M402.76 809.75 L415.3 800.85 M406.56 800.85 L419.1 809.75 M410.36 809.75 L422.9 800.85 M414.16 800.85 L426.7 809.75 M417.96 809.75 L430.5 800.85" stroke="#1c1c1c" stroke-width="1.1" fill="none"/>
<rect x="381.1" y="800.85" width="21.4" height="8.9" rx="0" fill="none" stroke="#1c1c1c" stroke-width="1.25"/>
<line x1="411.95" y1="854.5" x2="418.5" y2="854.5" stroke="#1c1c1c" stroke-width="1.3" />
<line x1="411.95" y1="858.7" x2="418.5" y2="858.7" stroke="#1c1c1c" stroke-width="1.3" />
<path d="M440.5 852.2 L448.7 853 Q447.5 856.6 448.7 860.2 L440.5 861 Z" fill="#fff" stroke="#1c1c1c" stroke-width="1.4" />
<rect x="418.5" y="852.15" width="22" height="8.9" rx="0" fill="#fff" stroke="#1c1c1c" stroke-width="1.2"/>
<clipPath id="c251"><rect x="418.5" y="852.15" width="22" height="8.9"/></clipPath>
<path clip-path="url(#c251)" d="M405.96 852.15 L418.5 861.05 M409.76 861.05 L422.3 852.15 M413.56 852.15 L426.1 861.05 M417.36 861.05 L429.9 852.15 M421.16 852.15 L433.7 861.05 M424.96 861.05 L437.5 852.15 M428.76 852.15 L441.3 861.05 M432.56 861.05 L445.1 852.15 M436.36 852.15 L448.9 861.05 M440.16 861.05 L452.7 852.15 M443.96 852.15 L456.5 861.05 M447.76 861.05 L460.3 852.15 M451.56 852.15 L464.1 861.05 M455.36 861.05 L467.9 852.15" stroke="#1c1c1c" stroke-width="1.1" fill="none"/>
<rect x="418.5" y="852.15" width="22" height="8.9" rx="0" fill="none" stroke="#1c1c1c" stroke-width="1.25"/>
<line x1="402.5" y1="911.2" x2="408.25" y2="911.2" stroke="#1c1c1c" stroke-width="1.3" />
<line x1="402.5" y1="915.4" x2="408.25" y2="915.4" stroke="#1c1c1c" stroke-width="1.3" />
<path d="M381.1 908.9 L372.6 909.7 Q373.8 913.3 372.6 916.9 L381.1 917.7 Z" fill="#fff" stroke="#1c1c1c" stroke-width="1.4" />
<rect x="381.1" y="908.85" width="21.4" height="8.9" rx="0" fill="#fff" stroke="#1c1c1c" stroke-width="1.2"/>
<clipPath id="c258"><rect x="381.1" y="908.85" width="21.4" height="8.9"/></clipPath>
<path clip-path="url(#c258)" d="M368.56 908.85 L381.1 917.75 M372.36 917.75 L384.9 908.85 M376.16 908.85 L388.7 917.75 M379.96 917.75 L392.5 908.85 M383.76 908.85 L396.3 917.75 M387.56 917.75 L400.1 908.85 M391.36 908.85 L403.9 917.75 M395.16 917.75 L407.7 908.85 M398.96 908.85 L411.5 917.75 M402.76 917.75 L415.3 908.85 M406.56 908.85 L419.1 917.75 M410.36 917.75 L422.9 908.85 M414.16 908.85 L426.7 917.75 M417.96 917.75 L430.5 908.85" stroke="#1c1c1c" stroke-width="1.1" fill="none"/>
<rect x="381.1" y="908.85" width="21.4" height="8.9" rx="0" fill="none" stroke="#1c1c1c" stroke-width="1.25"/>
<path d="M494.85 434.7 L494.85 479.3 M494.85 483.5 L494.85 588.3 M494.85 592.5 L494.85 696.9 M498.55 434.7 L498.55 534.2 M498.55 538.4 L498.55 639.8 M498.55 644 L498.55 748.5 M494.85 701.1 L494.85 763.8 C494.85 772.8 496.4 776.8 496.7 780.8 M498.55 752.7 L498.55 756.8 C498.55 768.8 497 775.8 496.7 780.8 " fill="none" stroke="#1c1c1c" stroke-width="1.65" />
<line x1="489.1" y1="479.3" x2="494.85" y2="479.3" stroke="#1c1c1c" stroke-width="1.3" />
<line x1="489.1" y1="483.5" x2="494.85" y2="483.5" stroke="#1c1c1c" stroke-width="1.3" />
<path d="M467.7 477 L459.2 477.8 Q460.4 481.4 459.2 485 L467.7 485.8 Z" fill="#fff" stroke="#1c1c1c" stroke-width="1.4" />
<rect x="467.7" y="476.95" width="21.4" height="8.9" rx="0" fill="#fff" stroke="#1c1c1c" stroke-width="1.2"/>
<clipPath id="c266"><rect x="467.7" y="476.95" width="21.4" height="8.9"/></clipPath>
<path clip-path="url(#c266)" d="M455.16 476.95 L467.7 485.85 M458.96 485.85 L471.5 476.95 M462.76 476.95 L475.3 485.85 M466.56 485.85 L479.1 476.95 M470.36 476.95 L482.9 485.85 M474.16 485.85 L486.7 476.95 M477.96 476.95 L490.5 485.85 M481.76 485.85 L494.3 476.95 M485.56 476.95 L498.1 485.85 M489.36 485.85 L501.9 476.95 M493.16 476.95 L505.7 485.85 M496.96 485.85 L509.5 476.95 M500.76 476.95 L513.3 485.85 M504.56 485.85 L517.1 476.95" stroke="#1c1c1c" stroke-width="1.1" fill="none"/>
<rect x="467.7" y="476.95" width="21.4" height="8.9" rx="0" fill="none" stroke="#1c1c1c" stroke-width="1.25"/>
<line x1="498.55" y1="534.2" x2="505.1" y2="534.2" stroke="#1c1c1c" stroke-width="1.3" />
<line x1="498.55" y1="538.4" x2="505.1" y2="538.4" stroke="#1c1c1c" stroke-width="1.3" />
<path d="M527.1 531.9 L535.3 532.7 Q534.1 536.3 535.3 539.9 L527.1 540.7 Z" fill="#fff" stroke="#1c1c1c" stroke-width="1.4" />
<rect x="505.1" y="531.85" width="22" height="8.9" rx="0" fill="#fff" stroke="#1c1c1c" stroke-width="1.2"/>
<clipPath id="c273"><rect x="505.1" y="531.85" width="22" height="8.9"/></clipPath>
<path clip-path="url(#c273)" d="M492.56 531.85 L505.1 540.75 M496.36 540.75 L508.9 531.85 M500.16 531.85 L512.7 540.75 M503.96 540.75 L516.5 531.85 M507.76 531.85 L520.3 540.75 M511.56 540.75 L524.1 531.85 M515.36 531.85 L527.9 540.75 M519.16 540.75 L531.7 531.85 M522.96 531.85 L535.5 540.75 M526.76 540.75 L539.3 531.85 M530.56 531.85 L543.1 540.75 M534.36 540.75 L546.9 531.85 M538.16 531.85 L550.7 540.75 M541.96 540.75 L554.5 531.85" stroke="#1c1c1c" stroke-width="1.1" fill="none"/>
<rect x="505.1" y="531.85" width="22" height="8.9" rx="0" fill="none" stroke="#1c1c1c" stroke-width="1.25"/>
<line x1="489.1" y1="588.3" x2="494.85" y2="588.3" stroke="#1c1c1c" stroke-width="1.3" />
<line x1="489.1" y1="592.5" x2="494.85" y2="592.5" stroke="#1c1c1c" stroke-width="1.3" />
<path d="M467.7 586 L459.2 586.8 Q460.4 590.4 459.2 594 L467.7 594.8 Z" fill="#fff" stroke="#1c1c1c" stroke-width="1.4" />
<rect x="467.7" y="585.95" width="21.4" height="8.9" rx="0" fill="#fff" stroke="#1c1c1c" stroke-width="1.2"/>
<clipPath id="c280"><rect x="467.7" y="585.95" width="21.4" height="8.9"/></clipPath>
<path clip-path="url(#c280)" d="M455.16 585.95 L467.7 594.85 M458.96 594.85 L471.5 585.95 M462.76 585.95 L475.3 594.85 M466.56 594.85 L479.1 585.95 M470.36 585.95 L482.9 594.85 M474.16 594.85 L486.7 585.95 M477.96 585.95 L490.5 594.85 M481.76 594.85 L494.3 585.95 M485.56 585.95 L498.1 594.85 M489.36 594.85 L501.9 585.95 M493.16 585.95 L505.7 594.85 M496.96 594.85 L509.5 585.95 M500.76 585.95 L513.3 594.85 M504.56 594.85 L517.1 585.95" stroke="#1c1c1c" stroke-width="1.1" fill="none"/>
<rect x="467.7" y="585.95" width="21.4" height="8.9" rx="0" fill="none" stroke="#1c1c1c" stroke-width="1.25"/>
<line x1="498.55" y1="639.8" x2="505.1" y2="639.8" stroke="#1c1c1c" stroke-width="1.3" />
<line x1="498.55" y1="644" x2="505.1" y2="644" stroke="#1c1c1c" stroke-width="1.3" />
<path d="M527.1 637.5 L535.3 638.3 Q534.1 641.9 535.3 645.5 L527.1 646.3 Z" fill="#fff" stroke="#1c1c1c" stroke-width="1.4" />
<rect x="505.1" y="637.45" width="22" height="8.9" rx="0" fill="#fff" stroke="#1c1c1c" stroke-width="1.2"/>
<clipPath id="c287"><rect x="505.1" y="637.45" width="22" height="8.9"/></clipPath>
<path clip-path="url(#c287)" d="M492.56 637.45 L505.1 646.35 M496.36 646.35 L508.9 637.45 M500.16 637.45 L512.7 646.35 M503.96 646.35 L516.5 637.45 M507.76 637.45 L520.3 646.35 M511.56 646.35 L524.1 637.45 M515.36 637.45 L527.9 646.35 M519.16 646.35 L531.7 637.45 M522.96 637.45 L535.5 646.35 M526.76 646.35 L539.3 637.45 M530.56 637.45 L543.1 646.35 M534.36 646.35 L546.9 637.45 M538.16 637.45 L550.7 646.35 M541.96 646.35 L554.5 637.45" stroke="#1c1c1c" stroke-width="1.1" fill="none"/>
<rect x="505.1" y="637.45" width="22" height="8.9" rx="0" fill="none" stroke="#1c1c1c" stroke-width="1.25"/>
<line x1="489.1" y1="696.9" x2="494.85" y2="696.9" stroke="#1c1c1c" stroke-width="1.3" />
<line x1="489.1" y1="701.1" x2="494.85" y2="701.1" stroke="#1c1c1c" stroke-width="1.3" />
<path d="M467.7 694.6 L459.2 695.4 Q460.4 699 459.2 702.6 L467.7 703.4 Z" fill="#fff" stroke="#1c1c1c" stroke-width="1.4" />
<rect x="467.7" y="694.55" width="21.4" height="8.9" rx="0" fill="#fff" stroke="#1c1c1c" stroke-width="1.2"/>
<clipPath id="c294"><rect x="467.7" y="694.55" width="21.4" height="8.9"/></clipPath>
<path clip-path="url(#c294)" d="M455.16 694.55 L467.7 703.45 M458.96 703.45 L471.5 694.55 M462.76 694.55 L475.3 703.45 M466.56 703.45 L479.1 694.55 M470.36 694.55 L482.9 703.45 M474.16 703.45 L486.7 694.55 M477.96 694.55 L490.5 703.45 M481.76 703.45 L494.3 694.55 M485.56 694.55 L498.1 703.45 M489.36 703.45 L501.9 694.55 M493.16 694.55 L505.7 703.45 M496.96 703.45 L509.5 694.55 M500.76 694.55 L513.3 703.45 M504.56 703.45 L517.1 694.55" stroke="#1c1c1c" stroke-width="1.1" fill="none"/>
<rect x="467.7" y="694.55" width="21.4" height="8.9" rx="0" fill="none" stroke="#1c1c1c" stroke-width="1.25"/>
<line x1="498.55" y1="748.5" x2="505.1" y2="748.5" stroke="#1c1c1c" stroke-width="1.3" />
<line x1="498.55" y1="752.7" x2="505.1" y2="752.7" stroke="#1c1c1c" stroke-width="1.3" />
<path d="M527.1 746.2 L535.3 747 Q534.1 750.6 535.3 754.2 L527.1 755 Z" fill="#fff" stroke="#1c1c1c" stroke-width="1.4" />
<rect x="505.1" y="746.15" width="22" height="8.9" rx="0" fill="#fff" stroke="#1c1c1c" stroke-width="1.2"/>
<clipPath id="c301"><rect x="505.1" y="746.15" width="22" height="8.9"/></clipPath>
<path clip-path="url(#c301)" d="M492.56 746.15 L505.1 755.05 M496.36 755.05 L508.9 746.15 M500.16 746.15 L512.7 755.05 M503.96 755.05 L516.5 746.15 M507.76 746.15 L520.3 755.05 M511.56 755.05 L524.1 746.15 M515.36 746.15 L527.9 755.05 M519.16 755.05 L531.7 746.15 M522.96 746.15 L535.5 755.05 M526.76 755.05 L539.3 746.15 M530.56 746.15 L543.1 755.05 M534.36 755.05 L546.9 746.15 M538.16 746.15 L550.7 755.05 M541.96 755.05 L554.5 746.15" stroke="#1c1c1c" stroke-width="1.1" fill="none"/>
<rect x="505.1" y="746.15" width="22" height="8.9" rx="0" fill="none" stroke="#1c1c1c" stroke-width="1.25"/>
<path d="M582.05 434.7 L582.05 479.3 M582.05 483.5 L582.05 588.3 M585.75 434.7 L585.75 534.2 M585.75 538.4 L585.75 639.8 M582.05 592.5 L582.05 656.7 C582.05 665.7 583.6 669.7 583.9 673.7 M585.75 644 L585.75 649.7 C585.75 661.7 584.2 668.7 583.9 673.7 " fill="none" stroke="#1c1c1c" stroke-width="1.65" />
<line x1="576.3" y1="479.3" x2="582.05" y2="479.3" stroke="#1c1c1c" stroke-width="1.3" />
<line x1="576.3" y1="483.5" x2="582.05" y2="483.5" stroke="#1c1c1c" stroke-width="1.3" />
<path d="M554.9 477 L546.4 477.8 Q547.6 481.4 546.4 485 L554.9 485.8 Z" fill="#fff" stroke="#1c1c1c" stroke-width="1.4" />
<rect x="554.9" y="476.95" width="21.4" height="8.9" rx="0" fill="#fff" stroke="#1c1c1c" stroke-width="1.2"/>
<clipPath id="c309"><rect x="554.9" y="476.95" width="21.4" height="8.9"/></clipPath>
<path clip-path="url(#c309)" d="M542.36 476.95 L554.9 485.85 M546.16 485.85 L558.7 476.95 M549.96 476.95 L562.5 485.85 M553.76 485.85 L566.3 476.95 M557.56 476.95 L570.1 485.85 M561.36 485.85 L573.9 476.95 M565.16 476.95 L577.7 485.85 M568.96 485.85 L581.5 476.95 M572.76 476.95 L585.3 485.85 M576.56 485.85 L589.1 476.95 M580.36 476.95 L592.9 485.85 M584.16 485.85 L596.7 476.95 M587.96 476.95 L600.5 485.85 M591.76 485.85 L604.3 476.95" stroke="#1c1c1c" stroke-width="1.1" fill="none"/>
<rect x="554.9" y="476.95" width="21.4" height="8.9" rx="0" fill="none" stroke="#1c1c1c" stroke-width="1.25"/>
<line x1="585.75" y1="534.2" x2="592.3" y2="534.2" stroke="#1c1c1c" stroke-width="1.3" />
<line x1="585.75" y1="538.4" x2="592.3" y2="538.4" stroke="#1c1c1c" stroke-width="1.3" />
<path d="M614.3 531.9 L622.5 532.7 Q621.3 536.3 622.5 539.9 L614.3 540.7 Z" fill="#fff" stroke="#1c1c1c" stroke-width="1.4" />
<rect x="592.3" y="531.85" width="22" height="8.9" rx="0" fill="#fff" stroke="#1c1c1c" stroke-width="1.2"/>
<clipPath id="c316"><rect x="592.3" y="531.85" width="22" height="8.9"/></clipPath>
<path clip-path="url(#c316)" d="M579.76 531.85 L592.3 540.75 M583.56 540.75 L596.1 531.85 M587.36 531.85 L599.9 540.75 M591.16 540.75 L603.7 531.85 M594.96 531.85 L607.5 540.75 M598.76 540.75 L611.3 531.85 M602.56 531.85 L615.1 540.75 M606.36 540.75 L618.9 531.85 M610.16 531.85 L622.7 540.75 M613.96 540.75 L626.5 531.85 M617.76 531.85 L630.3 540.75 M621.56 540.75 L634.1 531.85 M625.36 531.85 L637.9 540.75 M629.16 540.75 L641.7 531.85" stroke="#1c1c1c" stroke-width="1.1" fill="none"/>
<rect x="592.3" y="531.85" width="22" height="8.9" rx="0" fill="none" stroke="#1c1c1c" stroke-width="1.25"/>
<line x1="576.3" y1="588.3" x2="582.05" y2="588.3" stroke="#1c1c1c" stroke-width="1.3" />
<line x1="576.3" y1="592.5" x2="582.05" y2="592.5" stroke="#1c1c1c" stroke-width="1.3" />
<path d="M554.9 586 L546.4 586.8 Q547.6 590.4 546.4 594 L554.9 594.8 Z" fill="#fff" stroke="#1c1c1c" stroke-width="1.4" />
<rect x="554.9" y="585.95" width="21.4" height="8.9" rx="0" fill="#fff" stroke="#1c1c1c" stroke-width="1.2"/>
<clipPath id="c323"><rect x="554.9" y="585.95" width="21.4" height="8.9"/></clipPath>
<path clip-path="url(#c323)" d="M542.36 585.95 L554.9 594.85 M546.16 594.85 L558.7 585.95 M549.96 585.95 L562.5 594.85 M553.76 594.85 L566.3 585.95 M557.56 585.95 L570.1 594.85 M561.36 594.85 L573.9 585.95 M565.16 585.95 L577.7 594.85 M568.96 594.85 L581.5 585.95 M572.76 585.95 L585.3 594.85 M576.56 594.85 L589.1 585.95 M580.36 585.95 L592.9 594.85 M584.16 594.85 L596.7 585.95 M587.96 585.95 L600.5 594.85 M591.76 594.85 L604.3 585.95" stroke="#1c1c1c" stroke-width="1.1" fill="none"/>
<rect x="554.9" y="585.95" width="21.4" height="8.9" rx="0" fill="none" stroke="#1c1c1c" stroke-width="1.25"/>
<line x1="585.75" y1="639.8" x2="592.3" y2="639.8" stroke="#1c1c1c" stroke-width="1.3" />
<line x1="585.75" y1="644" x2="592.3" y2="644" stroke="#1c1c1c" stroke-width="1.3" />
<path d="M614.3 637.5 L622.5 638.3 Q621.3 641.9 622.5 645.5 L614.3 646.3 Z" fill="#fff" stroke="#1c1c1c" stroke-width="1.4" />
<rect x="592.3" y="637.45" width="22" height="8.9" rx="0" fill="#fff" stroke="#1c1c1c" stroke-width="1.2"/>
<clipPath id="c330"><rect x="592.3" y="637.45" width="22" height="8.9"/></clipPath>
<path clip-path="url(#c330)" d="M579.76 637.45 L592.3 646.35 M583.56 646.35 L596.1 637.45 M587.36 637.45 L599.9 646.35 M591.16 646.35 L603.7 637.45 M594.96 637.45 L607.5 646.35 M598.76 646.35 L611.3 637.45 M602.56 637.45 L615.1 646.35 M606.36 646.35 L618.9 637.45 M610.16 637.45 L622.7 646.35 M613.96 646.35 L626.5 637.45 M617.76 637.45 L630.3 646.35 M621.56 646.35 L634.1 637.45 M625.36 637.45 L637.9 646.35 M629.16 646.35 L641.7 637.45" stroke="#1c1c1c" stroke-width="1.1" fill="none"/>
<rect x="592.3" y="637.45" width="22" height="8.9" rx="0" fill="none" stroke="#1c1c1c" stroke-width="1.25"/>
<path d="M660.55 434.7 L660.55 479.3 M664.25 434.7 L664.25 534.2 M660.55 483.5 L660.55 552.5 C660.55 561.5 662.1 565.5 662.4 569.5 M664.25 538.4 L664.25 545.5 C664.25 557.5 662.7 564.5 662.4 569.5 " fill="none" stroke="#1c1c1c" stroke-width="1.65" />
<line x1="654.8" y1="479.3" x2="660.55" y2="479.3" stroke="#1c1c1c" stroke-width="1.3" />
<line x1="654.8" y1="483.5" x2="660.55" y2="483.5" stroke="#1c1c1c" stroke-width="1.3" />
<path d="M633.4 477 L624.9 477.8 Q626.1 481.4 624.9 485 L633.4 485.8 Z" fill="#fff" stroke="#1c1c1c" stroke-width="1.4" />
<rect x="633.4" y="476.95" width="21.4" height="8.9" rx="0" fill="#fff" stroke="#1c1c1c" stroke-width="1.2"/>
<clipPath id="c338"><rect x="633.4" y="476.95" width="21.4" height="8.9"/></clipPath>
<path clip-path="url(#c338)" d="M620.86 476.95 L633.4 485.85 M624.66 485.85 L637.2 476.95 M628.46 476.95 L641 485.85 M632.26 485.85 L644.8 476.95 M636.06 476.95 L648.6 485.85 M639.86 485.85 L652.4 476.95 M643.66 476.95 L656.2 485.85 M647.46 485.85 L660 476.95 M651.26 476.95 L663.8 485.85 M655.06 485.85 L667.6 476.95 M658.86 476.95 L671.4 485.85 M662.66 485.85 L675.2 476.95 M666.46 476.95 L679 485.85 M670.26 485.85 L682.8 476.95" stroke="#1c1c1c" stroke-width="1.1" fill="none"/>
<rect x="633.4" y="476.95" width="21.4" height="8.9" rx="0" fill="none" stroke="#1c1c1c" stroke-width="1.25"/>
<line x1="664.25" y1="534.2" x2="670.8" y2="534.2" stroke="#1c1c1c" stroke-width="1.3" />
<line x1="664.25" y1="538.4" x2="670.8" y2="538.4" stroke="#1c1c1c" stroke-width="1.3" />
<path d="M692.8 531.9 L701 532.7 Q699.8 536.3 701 539.9 L692.8 540.7 Z" fill="#fff" stroke="#1c1c1c" stroke-width="1.4" />
<rect x="670.8" y="531.85" width="22" height="8.9" rx="0" fill="#fff" stroke="#1c1c1c" stroke-width="1.2"/>
<clipPath id="c345"><rect x="670.8" y="531.85" width="22" height="8.9"/></clipPath>
<path clip-path="url(#c345)" d="M658.26 531.85 L670.8 540.75 M662.06 540.75 L674.6 531.85 M665.86 531.85 L678.4 540.75 M669.66 540.75 L682.2 531.85 M673.46 531.85 L686 540.75 M677.26 540.75 L689.8 531.85 M681.06 531.85 L693.6 540.75 M684.86 540.75 L697.4 531.85 M688.66 531.85 L701.2 540.75 M692.46 540.75 L705 531.85 M696.26 531.85 L708.8 540.75 M700.06 540.75 L712.6 531.85 M703.86 531.85 L716.4 540.75 M707.66 540.75 L720.2 531.85" stroke="#1c1c1c" stroke-width="1.1" fill="none"/>
<rect x="670.8" y="531.85" width="22" height="8.9" rx="0" fill="none" stroke="#1c1c1c" stroke-width="1.25"/>
<path d="M745.65 434.7 L745.65 479.3 M745.65 483.5 L745.65 588.3 M749.35 434.7 L749.35 534.2 M749.35 538.4 L749.35 639.8 M745.65 592.5 L745.65 656.7 C745.65 665.7 747.2 669.7 747.5 673.7 M749.35 644 L749.35 649.7 C749.35 661.7 747.8 668.7 747.5 673.7 " fill="none" stroke="#1c1c1c" stroke-width="1.65" />
<line x1="739.9" y1="479.3" x2="745.65" y2="479.3" stroke="#1c1c1c" stroke-width="1.3" />
<line x1="739.9" y1="483.5" x2="745.65" y2="483.5" stroke="#1c1c1c" stroke-width="1.3" />
<path d="M718.5 477 L710 477.8 Q711.2 481.4 710 485 L718.5 485.8 Z" fill="#fff" stroke="#1c1c1c" stroke-width="1.4" />
<rect x="718.5" y="476.95" width="21.4" height="8.9" rx="0" fill="#fff" stroke="#1c1c1c" stroke-width="1.2"/>
<clipPath id="c353"><rect x="718.5" y="476.95" width="21.4" height="8.9"/></clipPath>
<path clip-path="url(#c353)" d="M705.96 476.95 L718.5 485.85 M709.76 485.85 L722.3 476.95 M713.56 476.95 L726.1 485.85 M717.36 485.85 L729.9 476.95 M721.16 476.95 L733.7 485.85 M724.96 485.85 L737.5 476.95 M728.76 476.95 L741.3 485.85 M732.56 485.85 L745.1 476.95 M736.36 476.95 L748.9 485.85 M740.16 485.85 L752.7 476.95 M743.96 476.95 L756.5 485.85 M747.76 485.85 L760.3 476.95 M751.56 476.95 L764.1 485.85 M755.36 485.85 L767.9 476.95" stroke="#1c1c1c" stroke-width="1.1" fill="none"/>
<rect x="718.5" y="476.95" width="21.4" height="8.9" rx="0" fill="none" stroke="#1c1c1c" stroke-width="1.25"/>
<line x1="749.35" y1="534.2" x2="755.9" y2="534.2" stroke="#1c1c1c" stroke-width="1.3" />
<line x1="749.35" y1="538.4" x2="755.9" y2="538.4" stroke="#1c1c1c" stroke-width="1.3" />
<path d="M777.9 531.9 L786.1 532.7 Q784.9 536.3 786.1 539.9 L777.9 540.7 Z" fill="#fff" stroke="#1c1c1c" stroke-width="1.4" />
<rect x="755.9" y="531.85" width="22" height="8.9" rx="0" fill="#fff" stroke="#1c1c1c" stroke-width="1.2"/>
<clipPath id="c360"><rect x="755.9" y="531.85" width="22" height="8.9"/></clipPath>
<path clip-path="url(#c360)" d="M743.36 531.85 L755.9 540.75 M747.16 540.75 L759.7 531.85 M750.96 531.85 L763.5 540.75 M754.76 540.75 L767.3 531.85 M758.56 531.85 L771.1 540.75 M762.36 540.75 L774.9 531.85 M766.16 531.85 L778.7 540.75 M769.96 540.75 L782.5 531.85 M773.76 531.85 L786.3 540.75 M777.56 540.75 L790.1 531.85 M781.36 531.85 L793.9 540.75 M785.16 540.75 L797.7 531.85 M788.96 531.85 L801.5 540.75 M792.76 540.75 L805.3 531.85" stroke="#1c1c1c" stroke-width="1.1" fill="none"/>
<rect x="755.9" y="531.85" width="22" height="8.9" rx="0" fill="none" stroke="#1c1c1c" stroke-width="1.25"/>
<line x1="739.9" y1="588.3" x2="745.65" y2="588.3" stroke="#1c1c1c" stroke-width="1.3" />
<line x1="739.9" y1="592.5" x2="745.65" y2="592.5" stroke="#1c1c1c" stroke-width="1.3" />
<path d="M718.5 586 L710 586.8 Q711.2 590.4 710 594 L718.5 594.8 Z" fill="#fff" stroke="#1c1c1c" stroke-width="1.4" />
<rect x="718.5" y="585.95" width="21.4" height="8.9" rx="0" fill="#fff" stroke="#1c1c1c" stroke-width="1.2"/>
<clipPath id="c367"><rect x="718.5" y="585.95" width="21.4" height="8.9"/></clipPath>
<path clip-path="url(#c367)" d="M705.96 585.95 L718.5 594.85 M709.76 594.85 L722.3 585.95 M713.56 585.95 L726.1 594.85 M717.36 594.85 L729.9 585.95 M721.16 585.95 L733.7 594.85 M724.96 594.85 L737.5 585.95 M728.76 585.95 L741.3 594.85 M732.56 594.85 L745.1 585.95 M736.36 585.95 L748.9 594.85 M740.16 594.85 L752.7 585.95 M743.96 585.95 L756.5 594.85 M747.76 594.85 L760.3 585.95 M751.56 585.95 L764.1 594.85 M755.36 594.85 L767.9 585.95" stroke="#1c1c1c" stroke-width="1.1" fill="none"/>
<rect x="718.5" y="585.95" width="21.4" height="8.9" rx="0" fill="none" stroke="#1c1c1c" stroke-width="1.25"/>
<line x1="749.35" y1="639.8" x2="755.9" y2="639.8" stroke="#1c1c1c" stroke-width="1.3" />
<line x1="749.35" y1="644" x2="755.9" y2="644" stroke="#1c1c1c" stroke-width="1.3" />
<path d="M777.9 637.5 L786.1 638.3 Q784.9 641.9 786.1 645.5 L777.9 646.3 Z" fill="#fff" stroke="#1c1c1c" stroke-width="1.4" />
<rect x="755.9" y="637.45" width="22" height="8.9" rx="0" fill="#fff" stroke="#1c1c1c" stroke-width="1.2"/>
<clipPath id="c374"><rect x="755.9" y="637.45" width="22" height="8.9"/></clipPath>
<path clip-path="url(#c374)" d="M743.36 637.45 L755.9 646.35 M747.16 646.35 L759.7 637.45 M750.96 637.45 L763.5 646.35 M754.76 646.35 L767.3 637.45 M758.56 637.45 L771.1 646.35 M762.36 646.35 L774.9 637.45 M766.16 637.45 L778.7 646.35 M769.96 646.35 L782.5 637.45 M773.76 637.45 L786.3 646.35 M777.56 646.35 L790.1 637.45 M781.36 637.45 L793.9 646.35 M785.16 646.35 L797.7 637.45 M788.96 637.45 L801.5 646.35 M792.76 646.35 L805.3 637.45" stroke="#1c1c1c" stroke-width="1.1" fill="none"/>
<rect x="755.9" y="637.45" width="22" height="8.9" rx="0" fill="none" stroke="#1c1c1c" stroke-width="1.25"/>
<path d="M831.45 434.7 L831.45 479.3 M831.45 483.5 L831.45 588.3 M831.45 592.5 L831.45 696.9 M835.15 434.7 L835.15 534.2 M835.15 538.4 L835.15 639.8 M835.15 644 L835.15 748.5 M831.45 701.1 L831.45 763.8 C831.45 772.8 833 776.8 833.3 780.8 M835.15 752.7 L835.15 756.8 C835.15 768.8 833.6 775.8 833.3 780.8 " fill="none" stroke="#1c1c1c" stroke-width="1.65" />
<line x1="825.7" y1="479.3" x2="831.45" y2="479.3" stroke="#1c1c1c" stroke-width="1.3" />
<line x1="825.7" y1="483.5" x2="831.45" y2="483.5" stroke="#1c1c1c" stroke-width="1.3" />
<path d="M804.3 477 L795.8 477.8 Q797 481.4 795.8 485 L804.3 485.8 Z" fill="#fff" stroke="#1c1c1c" stroke-width="1.4" />
<rect x="804.3" y="476.95" width="21.4" height="8.9" rx="0" fill="#fff" stroke="#1c1c1c" stroke-width="1.2"/>
<clipPath id="c382"><rect x="804.3" y="476.95" width="21.4" height="8.9"/></clipPath>
<path clip-path="url(#c382)" d="M791.76 476.95 L804.3 485.85 M795.56 485.85 L808.1 476.95 M799.36 476.95 L811.9 485.85 M803.16 485.85 L815.7 476.95 M806.96 476.95 L819.5 485.85 M810.76 485.85 L823.3 476.95 M814.56 476.95 L827.1 485.85 M818.36 485.85 L830.9 476.95 M822.16 476.95 L834.7 485.85 M825.96 485.85 L838.5 476.95 M829.76 476.95 L842.3 485.85 M833.56 485.85 L846.1 476.95 M837.36 476.95 L849.9 485.85 M841.16 485.85 L853.7 476.95" stroke="#1c1c1c" stroke-width="1.1" fill="none"/>
<rect x="804.3" y="476.95" width="21.4" height="8.9" rx="0" fill="none" stroke="#1c1c1c" stroke-width="1.25"/>
<line x1="835.15" y1="534.2" x2="841.7" y2="534.2" stroke="#1c1c1c" stroke-width="1.3" />
<line x1="835.15" y1="538.4" x2="841.7" y2="538.4" stroke="#1c1c1c" stroke-width="1.3" />
<path d="M863.7 531.9 L871.9 532.7 Q870.7 536.3 871.9 539.9 L863.7 540.7 Z" fill="#fff" stroke="#1c1c1c" stroke-width="1.4" />
<rect x="841.7" y="531.85" width="22" height="8.9" rx="0" fill="#fff" stroke="#1c1c1c" stroke-width="1.2"/>
<clipPath id="c389"><rect x="841.7" y="531.85" width="22" height="8.9"/></clipPath>
<path clip-path="url(#c389)" d="M829.16 531.85 L841.7 540.75 M832.96 540.75 L845.5 531.85 M836.76 531.85 L849.3 540.75 M840.56 540.75 L853.1 531.85 M844.36 531.85 L856.9 540.75 M848.16 540.75 L860.7 531.85 M851.96 531.85 L864.5 540.75 M855.76 540.75 L868.3 531.85 M859.56 531.85 L872.1 540.75 M863.36 540.75 L875.9 531.85 M867.16 531.85 L879.7 540.75 M870.96 540.75 L883.5 531.85 M874.76 531.85 L887.3 540.75 M878.56 540.75 L891.1 531.85" stroke="#1c1c1c" stroke-width="1.1" fill="none"/>
<rect x="841.7" y="531.85" width="22" height="8.9" rx="0" fill="none" stroke="#1c1c1c" stroke-width="1.25"/>
<line x1="825.7" y1="588.3" x2="831.45" y2="588.3" stroke="#1c1c1c" stroke-width="1.3" />
<line x1="825.7" y1="592.5" x2="831.45" y2="592.5" stroke="#1c1c1c" stroke-width="1.3" />
<path d="M804.3 586 L795.8 586.8 Q797 590.4 795.8 594 L804.3 594.8 Z" fill="#fff" stroke="#1c1c1c" stroke-width="1.4" />
<rect x="804.3" y="585.95" width="21.4" height="8.9" rx="0" fill="#fff" stroke="#1c1c1c" stroke-width="1.2"/>
<clipPath id="c396"><rect x="804.3" y="585.95" width="21.4" height="8.9"/></clipPath>
<path clip-path="url(#c396)" d="M791.76 585.95 L804.3 594.85 M795.56 594.85 L808.1 585.95 M799.36 585.95 L811.9 594.85 M803.16 594.85 L815.7 585.95 M806.96 585.95 L819.5 594.85 M810.76 594.85 L823.3 585.95 M814.56 585.95 L827.1 594.85 M818.36 594.85 L830.9 585.95 M822.16 585.95 L834.7 594.85 M825.96 594.85 L838.5 585.95 M829.76 585.95 L842.3 594.85 M833.56 594.85 L846.1 585.95 M837.36 585.95 L849.9 594.85 M841.16 594.85 L853.7 585.95" stroke="#1c1c1c" stroke-width="1.1" fill="none"/>
<rect x="804.3" y="585.95" width="21.4" height="8.9" rx="0" fill="none" stroke="#1c1c1c" stroke-width="1.25"/>
<line x1="835.15" y1="639.8" x2="841.7" y2="639.8" stroke="#1c1c1c" stroke-width="1.3" />
<line x1="835.15" y1="644" x2="841.7" y2="644" stroke="#1c1c1c" stroke-width="1.3" />
<path d="M863.7 637.5 L871.9 638.3 Q870.7 641.9 871.9 645.5 L863.7 646.3 Z" fill="#fff" stroke="#1c1c1c" stroke-width="1.4" />
<rect x="841.7" y="637.45" width="22" height="8.9" rx="0" fill="#fff" stroke="#1c1c1c" stroke-width="1.2"/>
<clipPath id="c403"><rect x="841.7" y="637.45" width="22" height="8.9"/></clipPath>
<path clip-path="url(#c403)" d="M829.16 637.45 L841.7 646.35 M832.96 646.35 L845.5 637.45 M836.76 637.45 L849.3 646.35 M840.56 646.35 L853.1 637.45 M844.36 637.45 L856.9 646.35 M848.16 646.35 L860.7 637.45 M851.96 637.45 L864.5 646.35 M855.76 646.35 L868.3 637.45 M859.56 637.45 L872.1 646.35 M863.36 646.35 L875.9 637.45 M867.16 637.45 L879.7 646.35 M870.96 646.35 L883.5 637.45 M874.76 637.45 L887.3 646.35 M878.56 646.35 L891.1 637.45" stroke="#1c1c1c" stroke-width="1.1" fill="none"/>
<rect x="841.7" y="637.45" width="22" height="8.9" rx="0" fill="none" stroke="#1c1c1c" stroke-width="1.25"/>
<line x1="825.7" y1="696.9" x2="831.45" y2="696.9" stroke="#1c1c1c" stroke-width="1.3" />
<line x1="825.7" y1="701.1" x2="831.45" y2="701.1" stroke="#1c1c1c" stroke-width="1.3" />
<path d="M804.3 694.6 L795.8 695.4 Q797 699 795.8 702.6 L804.3 703.4 Z" fill="#fff" stroke="#1c1c1c" stroke-width="1.4" />
<rect x="804.3" y="694.55" width="21.4" height="8.9" rx="0" fill="#fff" stroke="#1c1c1c" stroke-width="1.2"/>
<clipPath id="c410"><rect x="804.3" y="694.55" width="21.4" height="8.9"/></clipPath>
<path clip-path="url(#c410)" d="M791.76 694.55 L804.3 703.45 M795.56 703.45 L808.1 694.55 M799.36 694.55 L811.9 703.45 M803.16 703.45 L815.7 694.55 M806.96 694.55 L819.5 703.45 M810.76 703.45 L823.3 694.55 M814.56 694.55 L827.1 703.45 M818.36 703.45 L830.9 694.55 M822.16 694.55 L834.7 703.45 M825.96 703.45 L838.5 694.55 M829.76 694.55 L842.3 703.45 M833.56 703.45 L846.1 694.55 M837.36 694.55 L849.9 703.45 M841.16 703.45 L853.7 694.55" stroke="#1c1c1c" stroke-width="1.1" fill="none"/>
<rect x="804.3" y="694.55" width="21.4" height="8.9" rx="0" fill="none" stroke="#1c1c1c" stroke-width="1.25"/>
<line x1="835.15" y1="748.5" x2="841.7" y2="748.5" stroke="#1c1c1c" stroke-width="1.3" />
<line x1="835.15" y1="752.7" x2="841.7" y2="752.7" stroke="#1c1c1c" stroke-width="1.3" />
<path d="M863.7 746.2 L871.9 747 Q870.7 750.6 871.9 754.2 L863.7 755 Z" fill="#fff" stroke="#1c1c1c" stroke-width="1.4" />
<rect x="841.7" y="746.15" width="22" height="8.9" rx="0" fill="#fff" stroke="#1c1c1c" stroke-width="1.2"/>
<clipPath id="c417"><rect x="841.7" y="746.15" width="22" height="8.9"/></clipPath>
<path clip-path="url(#c417)" d="M829.16 746.15 L841.7 755.05 M832.96 755.05 L845.5 746.15 M836.76 746.15 L849.3 755.05 M840.56 755.05 L853.1 746.15 M844.36 746.15 L856.9 755.05 M848.16 755.05 L860.7 746.15 M851.96 746.15 L864.5 755.05 M855.76 755.05 L868.3 746.15 M859.56 746.15 L872.1 755.05 M863.36 755.05 L875.9 746.15 M867.16 746.15 L879.7 755.05 M870.96 755.05 L883.5 746.15 M874.76 746.15 L887.3 755.05 M878.56 755.05 L891.1 746.15" stroke="#1c1c1c" stroke-width="1.1" fill="none"/>
<rect x="841.7" y="746.15" width="22" height="8.9" rx="0" fill="none" stroke="#1c1c1c" stroke-width="1.25"/>
<path d="M914.15 434.7 L914.15 479.3 M914.15 483.5 L914.15 588.3 M914.15 592.5 L914.15 696.9 M914.15 701.1 L914.15 803.2 M914.15 807.4 L914.15 911.2 M917.85 434.7 L917.85 534.2 M917.85 538.4 L917.85 639.8 M917.85 644 L917.85 748.5 M917.85 752.7 L917.85 854.5 M914.15 915.4 L914.15 927.9 C914.15 936.9 915.7 940.9 916 944.9 M917.85 858.7 L917.85 920.9 C917.85 932.9 916.3 939.9 916 944.9 " fill="none" stroke="#1c1c1c" stroke-width="1.65" />
<line x1="908.4" y1="479.3" x2="914.15" y2="479.3" stroke="#1c1c1c" stroke-width="1.3" />
<line x1="908.4" y1="483.5" x2="914.15" y2="483.5" stroke="#1c1c1c" stroke-width="1.3" />
<path d="M887 477 L878.5 477.8 Q879.7 481.4 878.5 485 L887 485.8 Z" fill="#fff" stroke="#1c1c1c" stroke-width="1.4" />
<rect x="887" y="476.95" width="21.4" height="8.9" rx="0" fill="#fff" stroke="#1c1c1c" stroke-width="1.2"/>
<clipPath id="c425"><rect x="887" y="476.95" width="21.4" height="8.9"/></clipPath>
<path clip-path="url(#c425)" d="M874.46 476.95 L887 485.85 M878.26 485.85 L890.8 476.95 M882.06 476.95 L894.6 485.85 M885.86 485.85 L898.4 476.95 M889.66 476.95 L902.2 485.85 M893.46 485.85 L906 476.95 M897.26 476.95 L909.8 485.85 M901.06 485.85 L913.6 476.95 M904.86 476.95 L917.4 485.85 M908.66 485.85 L921.2 476.95 M912.46 476.95 L925 485.85 M916.26 485.85 L928.8 476.95 M920.06 476.95 L932.6 485.85 M923.86 485.85 L936.4 476.95" stroke="#1c1c1c" stroke-width="1.1" fill="none"/>
<rect x="887" y="476.95" width="21.4" height="8.9" rx="0" fill="none" stroke="#1c1c1c" stroke-width="1.25"/>
<line x1="917.85" y1="534.2" x2="924.4" y2="534.2" stroke="#1c1c1c" stroke-width="1.3" />
<line x1="917.85" y1="538.4" x2="924.4" y2="538.4" stroke="#1c1c1c" stroke-width="1.3" />
<path d="M946.4 531.9 L954.6 532.7 Q953.4 536.3 954.6 539.9 L946.4 540.7 Z" fill="#fff" stroke="#1c1c1c" stroke-width="1.4" />
<rect x="924.4" y="531.85" width="22" height="8.9" rx="0" fill="#fff" stroke="#1c1c1c" stroke-width="1.2"/>
<clipPath id="c432"><rect x="924.4" y="531.85" width="22" height="8.9"/></clipPath>
<path clip-path="url(#c432)" d="M911.86 531.85 L924.4 540.75 M915.66 540.75 L928.2 531.85 M919.46 531.85 L932 540.75 M923.26 540.75 L935.8 531.85 M927.06 531.85 L939.6 540.75 M930.86 540.75 L943.4 531.85 M934.66 531.85 L947.2 540.75 M938.46 540.75 L951 531.85 M942.26 531.85 L954.8 540.75 M946.06 540.75 L958.6 531.85 M949.86 531.85 L962.4 540.75 M953.66 540.75 L966.2 531.85 M957.46 531.85 L970 540.75 M961.26 540.75 L973.8 531.85" stroke="#1c1c1c" stroke-width="1.1" fill="none"/>
<rect x="924.4" y="531.85" width="22" height="8.9" rx="0" fill="none" stroke="#1c1c1c" stroke-width="1.25"/>
<line x1="908.4" y1="588.3" x2="914.15" y2="588.3" stroke="#1c1c1c" stroke-width="1.3" />
<line x1="908.4" y1="592.5" x2="914.15" y2="592.5" stroke="#1c1c1c" stroke-width="1.3" />
<path d="M887 586 L878.5 586.8 Q879.7 590.4 878.5 594 L887 594.8 Z" fill="#fff" stroke="#1c1c1c" stroke-width="1.4" />
<rect x="887" y="585.95" width="21.4" height="8.9" rx="0" fill="#fff" stroke="#1c1c1c" stroke-width="1.2"/>
<clipPath id="c439"><rect x="887" y="585.95" width="21.4" height="8.9"/></clipPath>
<path clip-path="url(#c439)" d="M874.46 585.95 L887 594.85 M878.26 594.85 L890.8 585.95 M882.06 585.95 L894.6 594.85 M885.86 594.85 L898.4 585.95 M889.66 585.95 L902.2 594.85 M893.46 594.85 L906 585.95 M897.26 585.95 L909.8 594.85 M901.06 594.85 L913.6 585.95 M904.86 585.95 L917.4 594.85 M908.66 594.85 L921.2 585.95 M912.46 585.95 L925 594.85 M916.26 594.85 L928.8 585.95 M920.06 585.95 L932.6 594.85 M923.86 594.85 L936.4 585.95" stroke="#1c1c1c" stroke-width="1.1" fill="none"/>
<rect x="887" y="585.95" width="21.4" height="8.9" rx="0" fill="none" stroke="#1c1c1c" stroke-width="1.25"/>
<line x1="917.85" y1="639.8" x2="924.4" y2="639.8" stroke="#1c1c1c" stroke-width="1.3" />
<line x1="917.85" y1="644" x2="924.4" y2="644" stroke="#1c1c1c" stroke-width="1.3" />
<path d="M946.4 637.5 L954.6 638.3 Q953.4 641.9 954.6 645.5 L946.4 646.3 Z" fill="#fff" stroke="#1c1c1c" stroke-width="1.4" />
<rect x="924.4" y="637.45" width="22" height="8.9" rx="0" fill="#fff" stroke="#1c1c1c" stroke-width="1.2"/>
<clipPath id="c446"><rect x="924.4" y="637.45" width="22" height="8.9"/></clipPath>
<path clip-path="url(#c446)" d="M911.86 637.45 L924.4 646.35 M915.66 646.35 L928.2 637.45 M919.46 637.45 L932 646.35 M923.26 646.35 L935.8 637.45 M927.06 637.45 L939.6 646.35 M930.86 646.35 L943.4 637.45 M934.66 637.45 L947.2 646.35 M938.46 646.35 L951 637.45 M942.26 637.45 L954.8 646.35 M946.06 646.35 L958.6 637.45 M949.86 637.45 L962.4 646.35 M953.66 646.35 L966.2 637.45 M957.46 637.45 L970 646.35 M961.26 646.35 L973.8 637.45" stroke="#1c1c1c" stroke-width="1.1" fill="none"/>
<rect x="924.4" y="637.45" width="22" height="8.9" rx="0" fill="none" stroke="#1c1c1c" stroke-width="1.25"/>
<line x1="908.4" y1="696.9" x2="914.15" y2="696.9" stroke="#1c1c1c" stroke-width="1.3" />
<line x1="908.4" y1="701.1" x2="914.15" y2="701.1" stroke="#1c1c1c" stroke-width="1.3" />
<path d="M887 694.6 L878.5 695.4 Q879.7 699 878.5 702.6 L887 703.4 Z" fill="#fff" stroke="#1c1c1c" stroke-width="1.4" />
<rect x="887" y="694.55" width="21.4" height="8.9" rx="0" fill="#fff" stroke="#1c1c1c" stroke-width="1.2"/>
<clipPath id="c453"><rect x="887" y="694.55" width="21.4" height="8.9"/></clipPath>
<path clip-path="url(#c453)" d="M874.46 694.55 L887 703.45 M878.26 703.45 L890.8 694.55 M882.06 694.55 L894.6 703.45 M885.86 703.45 L898.4 694.55 M889.66 694.55 L902.2 703.45 M893.46 703.45 L906 694.55 M897.26 694.55 L909.8 703.45 M901.06 703.45 L913.6 694.55 M904.86 694.55 L917.4 703.45 M908.66 703.45 L921.2 694.55 M912.46 694.55 L925 703.45 M916.26 703.45 L928.8 694.55 M920.06 694.55 L932.6 703.45 M923.86 703.45 L936.4 694.55" stroke="#1c1c1c" stroke-width="1.1" fill="none"/>
<rect x="887" y="694.55" width="21.4" height="8.9" rx="0" fill="none" stroke="#1c1c1c" stroke-width="1.25"/>
<line x1="917.85" y1="748.5" x2="924.4" y2="748.5" stroke="#1c1c1c" stroke-width="1.3" />
<line x1="917.85" y1="752.7" x2="924.4" y2="752.7" stroke="#1c1c1c" stroke-width="1.3" />
<path d="M946.4 746.2 L954.6 747 Q953.4 750.6 954.6 754.2 L946.4 755 Z" fill="#fff" stroke="#1c1c1c" stroke-width="1.4" />
<rect x="924.4" y="746.15" width="22" height="8.9" rx="0" fill="#fff" stroke="#1c1c1c" stroke-width="1.2"/>
<clipPath id="c460"><rect x="924.4" y="746.15" width="22" height="8.9"/></clipPath>
<path clip-path="url(#c460)" d="M911.86 746.15 L924.4 755.05 M915.66 755.05 L928.2 746.15 M919.46 746.15 L932 755.05 M923.26 755.05 L935.8 746.15 M927.06 746.15 L939.6 755.05 M930.86 755.05 L943.4 746.15 M934.66 746.15 L947.2 755.05 M938.46 755.05 L951 746.15 M942.26 746.15 L954.8 755.05 M946.06 755.05 L958.6 746.15 M949.86 746.15 L962.4 755.05 M953.66 755.05 L966.2 746.15 M957.46 746.15 L970 755.05 M961.26 755.05 L973.8 746.15" stroke="#1c1c1c" stroke-width="1.1" fill="none"/>
<rect x="924.4" y="746.15" width="22" height="8.9" rx="0" fill="none" stroke="#1c1c1c" stroke-width="1.25"/>
<line x1="908.4" y1="803.2" x2="914.15" y2="803.2" stroke="#1c1c1c" stroke-width="1.3" />
<line x1="908.4" y1="807.4" x2="914.15" y2="807.4" stroke="#1c1c1c" stroke-width="1.3" />
<path d="M887 800.9 L878.5 801.7 Q879.7 805.3 878.5 808.9 L887 809.7 Z" fill="#fff" stroke="#1c1c1c" stroke-width="1.4" />
<rect x="887" y="800.85" width="21.4" height="8.9" rx="0" fill="#fff" stroke="#1c1c1c" stroke-width="1.2"/>
<clipPath id="c467"><rect x="887" y="800.85" width="21.4" height="8.9"/></clipPath>
<path clip-path="url(#c467)" d="M874.46 800.85 L887 809.75 M878.26 809.75 L890.8 800.85 M882.06 800.85 L894.6 809.75 M885.86 809.75 L898.4 800.85 M889.66 800.85 L902.2 809.75 M893.46 809.75 L906 800.85 M897.26 800.85 L909.8 809.75 M901.06 809.75 L913.6 800.85 M904.86 800.85 L917.4 809.75 M908.66 809.75 L921.2 800.85 M912.46 800.85 L925 809.75 M916.26 809.75 L928.8 800.85 M920.06 800.85 L932.6 809.75 M923.86 809.75 L936.4 800.85" stroke="#1c1c1c" stroke-width="1.1" fill="none"/>
<rect x="887" y="800.85" width="21.4" height="8.9" rx="0" fill="none" stroke="#1c1c1c" stroke-width="1.25"/>
<line x1="917.85" y1="854.5" x2="924.4" y2="854.5" stroke="#1c1c1c" stroke-width="1.3" />
<line x1="917.85" y1="858.7" x2="924.4" y2="858.7" stroke="#1c1c1c" stroke-width="1.3" />
<path d="M946.4 852.2 L954.6 853 Q953.4 856.6 954.6 860.2 L946.4 861 Z" fill="#fff" stroke="#1c1c1c" stroke-width="1.4" />
<rect x="924.4" y="852.15" width="22" height="8.9" rx="0" fill="#fff" stroke="#1c1c1c" stroke-width="1.2"/>
<clipPath id="c474"><rect x="924.4" y="852.15" width="22" height="8.9"/></clipPath>
<path clip-path="url(#c474)" d="M911.86 852.15 L924.4 861.05 M915.66 861.05 L928.2 852.15 M919.46 852.15 L932 861.05 M923.26 861.05 L935.8 852.15 M927.06 852.15 L939.6 861.05 M930.86 861.05 L943.4 852.15 M934.66 852.15 L947.2 861.05 M938.46 861.05 L951 852.15 M942.26 852.15 L954.8 861.05 M946.06 861.05 L958.6 852.15 M949.86 852.15 L962.4 861.05 M953.66 861.05 L966.2 852.15 M957.46 852.15 L970 861.05 M961.26 861.05 L973.8 852.15" stroke="#1c1c1c" stroke-width="1.1" fill="none"/>
<rect x="924.4" y="852.15" width="22" height="8.9" rx="0" fill="none" stroke="#1c1c1c" stroke-width="1.25"/>
<line x1="908.4" y1="911.2" x2="914.15" y2="911.2" stroke="#1c1c1c" stroke-width="1.3" />
<line x1="908.4" y1="915.4" x2="914.15" y2="915.4" stroke="#1c1c1c" stroke-width="1.3" />
<path d="M887 908.9 L878.5 909.7 Q879.7 913.3 878.5 916.9 L887 917.7 Z" fill="#fff" stroke="#1c1c1c" stroke-width="1.4" />
<rect x="887" y="908.85" width="21.4" height="8.9" rx="0" fill="#fff" stroke="#1c1c1c" stroke-width="1.2"/>
<clipPath id="c481"><rect x="887" y="908.85" width="21.4" height="8.9"/></clipPath>
<path clip-path="url(#c481)" d="M874.46 908.85 L887 917.75 M878.26 917.75 L890.8 908.85 M882.06 908.85 L894.6 917.75 M885.86 917.75 L898.4 908.85 M889.66 908.85 L902.2 917.75 M893.46 917.75 L906 908.85 M897.26 908.85 L909.8 917.75 M901.06 917.75 L913.6 908.85 M904.86 908.85 L917.4 917.75 M908.66 917.75 L921.2 908.85 M912.46 908.85 L925 917.75 M916.26 917.75 L928.8 908.85 M920.06 908.85 L932.6 917.75 M923.86 917.75 L936.4 908.85" stroke="#1c1c1c" stroke-width="1.1" fill="none"/>
<rect x="887" y="908.85" width="21.4" height="8.9" rx="0" fill="none" stroke="#1c1c1c" stroke-width="1.25"/>
<rect x="934.7" y="424.7" width="7.7" height="13.5" rx="0" fill="#fff" stroke="#1c1c1c" stroke-width="1.7"/>
<rect x="936" y="425.5" width="3" height="12" fill="#666"/>
<ellipse cx="946.9" cy="433" rx="3.9" ry="14" fill="#fff" stroke="#1c1c1c" stroke-width="2.2"/>
<rect x="946.3" y="425.5" width="3.3" height="11.8" rx="0" fill="#fff" stroke="#1c1c1c" stroke-width="1.5"/>
<rect x="949.6" y="424.2" width="12.2" height="14" rx="0" fill="#fff" stroke="#1c1c1c" stroke-width="1.7"/>
<path d="M953 427.5 L958 427.5 Q959.5 431.2 958 435 L953 435 M953 424.5 L953 438" fill="none" stroke="#1c1c1c" stroke-width="1.2" />
<rect x="961.8" y="419.3" width="13.5" height="23.8" rx="1.5" fill="#222"/>
<rect x="978.9" y="420.2" width="14.8" height="23.8" fill="#222"/>
<rect x="979.5" y="422.5" width="13.5" height="1.5" fill="#eee"/>
<rect x="979.5" y="431.2" width="13.5" height="1.5" fill="#eee"/>
<rect x="979.5" y="439.2" width="13.5" height="1.5" fill="#eee"/>
<path d="M948 418.8 Q962 409.3 979 409 Q997.3 409.2 997.6 428 Q997.8 437 993.5 440.5" fill="none" stroke="#1c1c1c" stroke-width="2.5" />
<line x1="95.8" y1="445" x2="95.8" y2="530" stroke="#1c1c1c" stroke-width="1.5" />
<path d="M92 451.5 L99.6 451.5 L95.8 437.5 Z" fill="#1c1c1c"/>
<path d="M92 522.3 L99.6 522.3 L95.8 536.3 Z" fill="#1c1c1c"/>
<line x1="82" y1="537.2" x2="143" y2="537.2" stroke="#1c1c1c" stroke-width="1.5" />
<text x="0" y="0" font-size="25.4" fill="#1c1c1c" text-anchor="middle" textLength="43.4" lengthAdjust="spacingAndGlyphs" transform="translate(83.5 484.6) rotate(-90)">200</text>
<line x1="992.8" y1="452" x2="992.8" y2="905" stroke="#1c1c1c" stroke-width="1.5" />
<path d="M988.8 452.5 L996.8 452.5 L992.8 443.5 Z" fill="#1c1c1c"/>
<path d="M988.6 897.5 L997 897.5 L992.8 912 Z" fill="#1c1c1c"/>
<line x1="973" y1="913.4" x2="997.5" y2="913.4" stroke="#1c1c1c" stroke-width="1.5" />
<text x="0" y="0" font-size="25.4" fill="#1c1c1c" text-anchor="middle" textLength="44" lengthAdjust="spacingAndGlyphs" transform="translate(985.5 673) rotate(-90)">900</text>
<line x1="157" y1="957" x2="157" y2="994.5" stroke="#1c1c1c" stroke-width="1.5" />
<line x1="916.6" y1="957.2" x2="916.6" y2="994.4" stroke="#1c1c1c" stroke-width="1.5" />
<line x1="165" y1="983.3" x2="908" y2="983.3" stroke="#1c1c1c" stroke-width="1.5" />
<path d="M173.5 979.3 L173.5 987.3 L158.5 983.3 Z" fill="#1c1c1c"/>
<path d="M900.5 979.3 L900.5 987.3 L915.5 983.3 Z" fill="#1c1c1c"/>
<text x="508" y="968.7" font-size="25.2" font-weight="normal" fill="#1c1c1c" text-anchor="start" textLength="60" lengthAdjust="spacingAndGlyphs" >5600</text>
</svg></body></html>
